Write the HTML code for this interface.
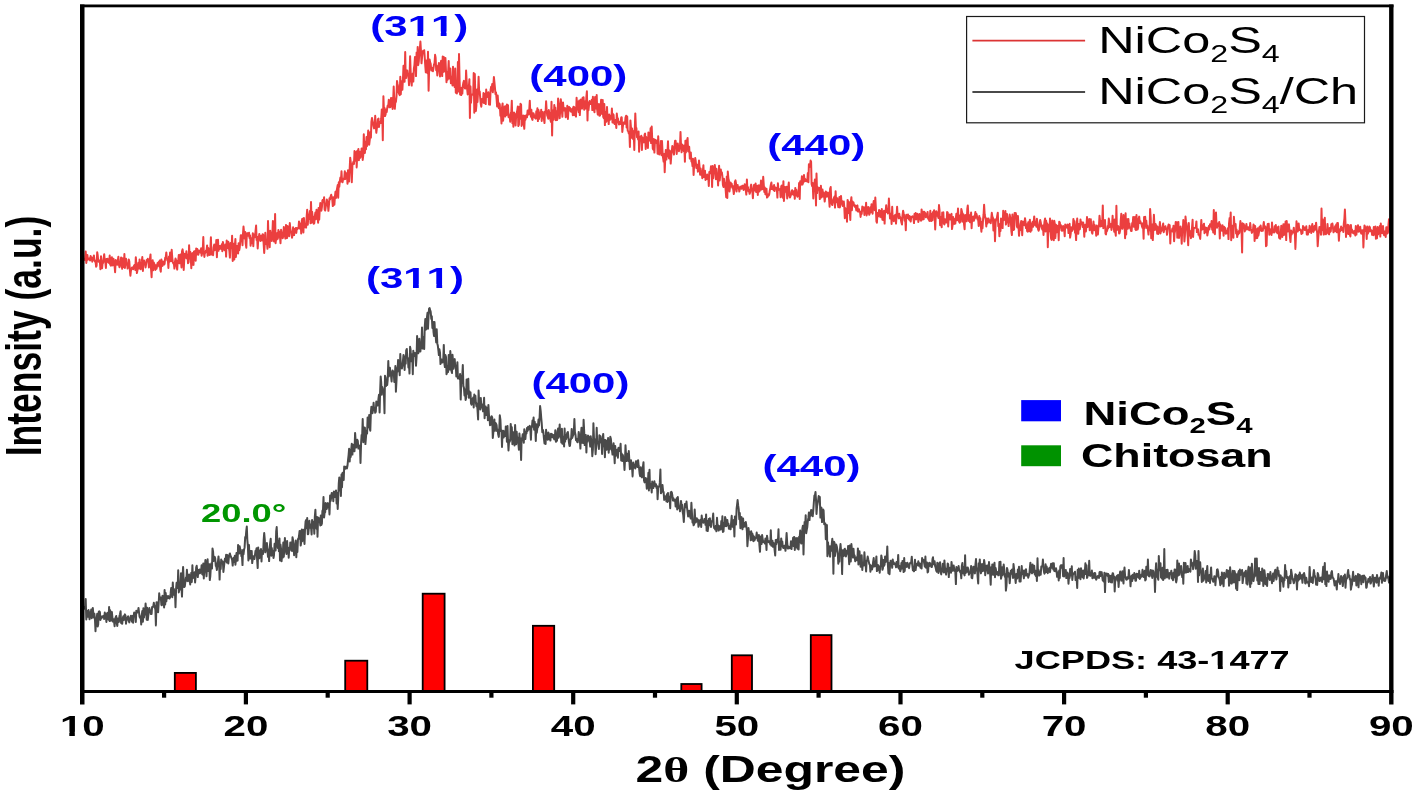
<!DOCTYPE html>
<html><head><meta charset="utf-8"><title>XRD</title>
<style>html,body{margin:0;padding:0;background:#fff;} svg{display:block;} text{font-kerning:none;}</style>
</head><body>
<svg width="1416" height="794" viewBox="0 0 1416 794"><defs><clipPath id="f1" clipPathUnits="userSpaceOnUse"><path d="M-2000,-2000H4000V2000H-2000ZM-15.50,-3.96H-9.36V2.00H-15.50ZM-5.38,-3.96H-0.01V2.00H-5.38Z" clip-rule="evenodd"/></clipPath><clipPath id="f2" clipPathUnits="userSpaceOnUse"><path d="M-2000,-2000H4000V2000H-2000ZM-7.65,-4.06H-1.34V2.00H-7.65ZM2.78,-4.06H8.31V2.00H2.78ZM9.03,-4.06H15.34V2.00H9.03ZM19.46,-4.06H24.99V2.00H19.46Z" clip-rule="evenodd"/></clipPath><clipPath id="f3" clipPathUnits="userSpaceOnUse"><path d="M-2000,-2000H4000V2000H-2000ZM-7.65,-4.06H-1.34V2.00H-7.65ZM2.78,-4.06H8.31V2.00H2.78ZM9.03,-4.06H15.34V2.00H9.03ZM19.46,-4.06H24.99V2.00H19.46Z" clip-rule="evenodd"/></clipPath><clipPath id="f4" clipPathUnits="userSpaceOnUse"><path d="M-2000,-2000H4000V2000H-2000ZM140.59,-3.65H146.22V2.00H140.59ZM149.79,-3.65H154.69V2.00H149.79Z" clip-rule="evenodd"/></clipPath></defs><rect x="0" y="0" width="1416" height="794" fill="#fff"/>
<rect x="174.8" y="672.9" width="21.1" height="18.1" fill="#ff0000" stroke="#000" stroke-width="1.8"/>
<rect x="345.2" y="660.7" width="22.1" height="30.3" fill="#ff0000" stroke="#000" stroke-width="1.8"/>
<rect x="422.7" y="593.7" width="21.9" height="97.3" fill="#ff0000" stroke="#000" stroke-width="1.8"/>
<rect x="532.9" y="625.8" width="21.3" height="65.2" fill="#ff0000" stroke="#000" stroke-width="1.8"/>
<rect x="681.3" y="684.0" width="20.3" height="7.0" fill="#ff0000" stroke="#000" stroke-width="1.8"/>
<rect x="731.8" y="655.3" width="20.2" height="35.7" fill="#ff0000" stroke="#000" stroke-width="1.8"/>
<rect x="810.8" y="635.1" width="20.7" height="55.9" fill="#ff0000" stroke="#000" stroke-width="1.8"/>
<path d="M84.1,258.0 L84.6,259.9 L85.2,257.9 L85.7,251.5 L86.3,262.9 L86.8,258.8 L87.4,255.1 L87.9,259.7 L88.5,259.0 L89.0,259.0 L89.5,258.2 L90.1,260.5 L90.6,255.9 L91.2,258.7 L91.7,257.4 L92.3,261.7 L92.8,258.7 L93.4,259.3 L93.9,255.4 L94.4,260.2 L95.0,261.5 L95.5,260.8 L96.1,266.7 L96.6,265.8 L97.2,252.2 L97.7,255.1 L98.2,261.3 L98.8,260.1 L99.3,262.3 L99.9,262.0 L100.4,269.2 L101.0,256.3 L101.5,261.9 L102.1,268.2 L102.6,262.9 L103.1,263.0 L103.7,258.2 L104.2,254.2 L104.8,261.5 L105.3,261.5 L105.9,268.0 L106.4,259.1 L107.0,261.5 L107.5,258.8 L108.0,261.9 L108.6,262.7 L109.1,262.9 L109.7,255.6 L110.2,264.6 L110.8,265.6 L111.3,259.8 L111.9,257.3 L112.4,265.4 L112.9,261.8 L113.5,258.8 L114.0,265.2 L114.6,266.4 L115.1,272.2 L115.7,259.9 L116.2,262.8 L116.7,264.0 L117.3,264.8 L117.8,260.5 L118.4,256.7 L118.9,264.6 L119.5,267.2 L120.0,264.8 L120.6,262.4 L121.1,257.4 L121.6,264.9 L122.2,268.8 L122.7,258.3 L123.3,260.5 L123.8,267.1 L124.4,254.0 L124.9,268.0 L125.5,263.1 L126.0,258.7 L126.5,264.6 L127.1,263.5 L127.6,268.6 L128.2,266.1 L128.7,259.4 L129.3,261.3 L129.8,269.3 L130.4,275.7 L130.9,270.8 L131.4,268.9 L132.0,267.5 L132.5,267.6 L133.1,269.2 L133.6,266.8 L134.2,265.5 L134.7,264.9 L135.3,269.9 L135.8,257.2 L136.3,263.7 L136.9,273.1 L137.4,270.5 L138.0,266.9 L138.5,262.7 L139.1,268.6 L139.6,259.4 L140.1,267.3 L140.7,269.3 L141.2,265.6 L141.8,261.7 L142.3,257.1 L142.9,271.0 L143.4,262.6 L144.0,260.5 L144.5,264.2 L145.0,262.8 L145.6,267.4 L146.1,264.0 L146.7,259.9 L147.2,261.2 L147.8,258.8 L148.3,260.1 L148.9,267.5 L149.4,266.0 L149.9,259.2 L150.5,254.4 L151.0,268.2 L151.6,277.2 L152.1,263.1 L152.7,260.3 L153.2,270.2 L153.8,262.5 L154.3,264.3 L154.8,265.3 L155.4,269.9 L155.9,265.2 L156.5,268.8 L157.0,266.5 L157.6,262.9 L158.1,265.4 L158.7,262.0 L159.2,266.4 L159.7,260.5 L160.3,269.6 L160.8,271.8 L161.4,259.5 L161.9,263.8 L162.5,265.9 L163.0,261.5 L163.5,262.1 L164.1,264.6 L164.6,263.8 L165.2,257.7 L165.7,257.9 L166.3,252.4 L166.8,257.6 L167.4,260.5 L167.9,259.9 L168.4,267.9 L169.0,256.5 L169.5,261.7 L170.1,252.4 L170.6,260.9 L171.2,261.1 L171.7,249.8 L172.3,258.3 L172.8,261.7 L173.3,263.5 L173.9,263.4 L174.4,268.6 L175.0,261.7 L175.5,258.6 L176.1,260.4 L176.6,266.1 L177.2,269.6 L177.7,260.8 L178.2,261.4 L178.8,254.9 L179.3,263.3 L179.9,257.3 L180.4,254.5 L181.0,261.2 L181.5,267.4 L182.0,251.2 L182.6,249.4 L183.1,253.4 L183.7,269.9 L184.2,260.7 L184.8,253.8 L185.3,254.1 L185.9,257.8 L186.4,251.2 L186.9,258.5 L187.5,254.8 L188.0,263.2 L188.6,262.2 L189.1,245.2 L189.7,258.6 L190.2,251.7 L190.8,259.1 L191.3,268.2 L191.8,254.9 L192.4,253.1 L192.9,264.7 L193.5,264.9 L194.0,251.4 L194.6,256.8 L195.1,251.0 L195.7,260.7 L196.2,248.4 L196.7,254.7 L197.3,249.1 L197.8,252.9 L198.4,254.7 L198.9,250.5 L199.5,252.3 L200.0,250.9 L200.6,252.8 L201.1,248.3 L201.6,255.7 L202.2,252.6 L202.7,252.0 L203.3,237.0 L203.8,252.2 L204.4,257.0 L204.9,252.0 L205.4,252.8 L206.0,250.4 L206.5,251.0 L207.1,245.4 L207.6,255.7 L208.2,247.9 L208.7,249.6 L209.3,254.8 L209.8,254.9 L210.3,250.9 L210.9,237.3 L211.4,254.6 L212.0,253.5 L212.5,253.1 L213.1,255.2 L213.6,247.4 L214.2,244.6 L214.7,250.3 L215.2,248.3 L215.8,249.8 L216.3,240.0 L216.9,257.3 L217.4,244.6 L218.0,239.7 L218.5,250.8 L219.1,245.8 L219.6,248.9 L220.1,246.0 L220.7,247.5 L221.2,249.0 L221.8,244.3 L222.3,251.2 L222.9,241.9 L223.4,244.2 L224.0,248.5 L224.5,250.2 L225.0,247.2 L225.6,244.4 L226.1,256.6 L226.7,240.4 L227.2,243.4 L227.8,247.9 L228.3,241.7 L228.8,247.5 L229.4,251.2 L229.9,257.6 L230.5,243.0 L231.0,244.1 L231.6,248.3 L232.1,235.8 L232.7,261.0 L233.2,243.8 L233.7,243.8 L234.3,259.4 L234.8,247.4 L235.4,239.0 L235.9,257.0 L236.5,248.4 L237.0,246.0 L237.6,247.0 L238.1,253.5 L238.6,243.2 L239.2,250.2 L239.7,247.8 L240.3,241.2 L240.8,235.2 L241.4,240.7 L241.9,235.2 L242.5,245.3 L243.0,233.8 L243.5,226.5 L244.1,233.2 L244.6,238.4 L245.2,231.9 L245.7,243.3 L246.3,247.7 L246.8,234.8 L247.3,233.1 L247.9,235.8 L248.4,233.9 L249.0,232.7 L249.5,237.9 L250.1,235.5 L250.6,245.7 L251.2,238.2 L251.7,239.5 L252.2,243.2 L252.8,233.3 L253.3,246.2 L253.9,234.6 L254.4,234.5 L255.0,237.2 L255.5,231.5 L256.1,225.5 L256.6,239.9 L257.1,236.7 L257.7,248.4 L258.2,240.5 L258.8,237.6 L259.3,233.9 L259.9,239.3 L260.4,241.0 L261.0,235.7 L261.5,236.3 L262.0,240.4 L262.6,234.3 L263.1,234.4 L263.7,244.6 L264.2,253.0 L264.8,242.6 L265.3,232.7 L265.9,243.9 L266.4,239.8 L266.9,242.6 L267.5,248.8 L268.0,220.9 L268.6,240.5 L269.1,232.4 L269.7,247.2 L270.2,230.7 L270.7,235.2 L271.3,235.3 L271.8,241.0 L272.4,233.1 L272.9,220.9 L273.5,233.7 L274.0,241.4 L274.6,236.2 L275.1,213.9 L275.6,243.2 L276.2,237.5 L276.7,239.6 L277.3,233.1 L277.8,238.7 L278.4,230.0 L278.9,236.8 L279.5,231.7 L280.0,236.8 L280.5,243.2 L281.1,229.8 L281.6,232.8 L282.2,233.1 L282.7,238.2 L283.3,235.9 L283.8,227.1 L284.4,234.5 L284.9,235.7 L285.4,238.6 L286.0,224.9 L286.5,229.8 L287.1,238.0 L287.6,226.1 L288.2,226.7 L288.7,234.3 L289.2,236.3 L289.8,223.1 L290.3,228.3 L290.9,232.1 L291.4,233.1 L292.0,237.7 L292.5,235.5 L293.1,227.3 L293.6,230.3 L294.1,235.1 L294.7,229.1 L295.2,231.0 L295.8,228.0 L296.3,232.9 L296.9,227.9 L297.4,229.0 L298.0,228.0 L298.5,227.9 L299.0,221.5 L299.6,228.6 L300.1,228.3 L300.7,223.6 L301.2,233.4 L301.8,220.7 L302.3,218.7 L302.9,223.2 L303.4,232.5 L303.9,217.9 L304.5,226.1 L305.0,227.2 L305.6,224.6 L306.1,227.6 L306.7,215.8 L307.2,209.7 L307.8,224.8 L308.3,215.5 L308.8,219.0 L309.4,214.5 L309.9,211.1 L310.5,223.3 L311.0,201.9 L311.6,222.7 L312.1,211.7 L312.6,216.3 L313.2,216.8 L313.7,223.7 L314.3,223.1 L314.8,216.5 L315.4,212.4 L315.9,219.2 L316.5,209.7 L317.0,214.1 L317.5,214.2 L318.1,222.8 L318.6,207.9 L319.2,219.6 L319.7,210.4 L320.3,203.0 L320.8,204.6 L321.4,210.7 L321.9,207.2 L322.4,200.4 L323.0,199.7 L323.5,202.1 L324.1,197.3 L324.6,209.4 L325.2,210.5 L325.7,207.0 L326.3,203.9 L326.8,199.5 L327.3,201.5 L327.9,205.1 L328.4,210.8 L329.0,204.4 L329.5,198.3 L330.1,199.4 L330.6,196.6 L331.2,194.8 L331.7,197.3 L332.2,198.7 L332.8,206.1 L333.3,197.2 L333.9,205.0 L334.4,204.7 L335.0,195.9 L335.5,191.7 L336.0,198.0 L336.6,191.2 L337.1,188.3 L337.7,185.1 L338.2,197.7 L338.8,182.3 L339.3,186.7 L339.9,180.7 L340.4,177.5 L340.9,181.5 L341.5,171.3 L342.0,181.1 L342.6,182.2 L343.1,178.6 L343.7,178.4 L344.2,179.2 L344.8,171.3 L345.3,179.0 L345.8,172.8 L346.4,177.9 L346.9,174.0 L347.5,183.8 L348.0,170.3 L348.6,174.6 L349.1,181.4 L349.7,168.0 L350.2,157.7 L350.7,161.9 L351.3,166.8 L351.8,182.3 L352.4,165.4 L352.9,163.5 L353.5,161.6 L354.0,163.9 L354.5,151.0 L355.1,160.8 L355.6,159.0 L356.2,152.0 L356.7,167.4 L357.3,150.7 L357.8,151.6 L358.4,149.0 L358.9,160.3 L359.4,151.4 L360.0,157.9 L360.5,157.2 L361.1,155.4 L361.6,148.4 L362.2,148.7 L362.7,159.9 L363.3,154.8 L363.8,134.2 L364.3,150.2 L364.9,153.0 L365.4,141.4 L366.0,149.2 L366.5,137.1 L367.1,145.9 L367.6,141.3 L368.2,130.5 L368.7,142.7 L369.2,144.7 L369.8,139.5 L370.3,131.9 L370.9,137.6 L371.4,121.9 L372.0,118.0 L372.5,120.6 L373.1,123.5 L373.6,126.6 L374.1,128.4 L374.7,125.6 L375.2,115.7 L375.8,125.7 L376.3,132.8 L376.9,128.0 L377.4,126.0 L377.9,119.4 L378.5,118.5 L379.0,127.0 L379.6,122.0 L380.1,123.0 L380.7,123.1 L381.2,118.7 L381.8,109.4 L382.3,115.7 L382.8,140.2 L383.4,96.3 L383.9,109.9 L384.5,108.0 L385.0,116.1 L385.6,114.4 L386.1,109.5 L386.7,112.1 L387.2,108.1 L387.7,105.4 L388.3,105.8 L388.8,99.7 L389.4,107.3 L389.9,107.3 L390.5,106.9 L391.0,98.1 L391.6,100.0 L392.1,98.1 L392.6,109.0 L393.2,99.3 L393.7,86.6 L394.3,99.9 L394.8,108.8 L395.4,101.1 L395.9,101.9 L396.5,96.3 L397.0,81.0 L397.5,83.8 L398.1,86.6 L398.6,92.5 L399.2,94.1 L399.7,95.2 L400.3,76.7 L400.8,94.3 L401.3,82.7 L401.9,81.4 L402.4,89.8 L403.0,77.8 L403.5,65.7 L404.1,75.3 L404.6,81.8 L405.2,52.1 L405.7,78.1 L406.2,77.8 L406.8,70.6 L407.3,70.5 L407.9,75.6 L408.4,74.6 L409.0,85.2 L409.5,79.2 L410.1,56.2 L410.6,70.3 L411.1,79.2 L411.7,85.6 L412.2,75.2 L412.8,73.5 L413.3,81.6 L413.9,68.5 L414.4,65.2 L415.0,56.9 L415.5,60.9 L416.0,76.1 L416.6,52.6 L417.1,61.8 L417.7,46.9 L418.2,65.2 L418.8,61.3 L419.3,53.1 L419.8,49.8 L420.4,41.5 L420.9,49.8 L421.5,63.3 L422.0,58.0 L422.6,52.2 L423.1,50.9 L423.7,51.1 L424.2,50.2 L424.7,56.8 L425.3,66.2 L425.8,72.3 L426.4,60.4 L426.9,62.2 L427.5,73.3 L428.0,51.8 L428.6,90.7 L429.1,70.4 L429.6,59.4 L430.2,62.6 L430.7,63.9 L431.3,70.5 L431.8,67.7 L432.4,69.7 L432.9,71.2 L433.5,68.0 L434.0,64.4 L434.5,63.7 L435.1,54.8 L435.6,57.7 L436.2,70.3 L436.7,65.6 L437.3,75.5 L437.8,70.3 L438.4,70.5 L438.9,62.9 L439.4,66.3 L440.0,76.5 L440.5,66.1 L441.1,60.8 L441.6,69.0 L442.2,76.1 L442.7,56.5 L443.2,72.0 L443.8,57.1 L444.3,71.4 L444.9,65.8 L445.4,57.9 L446.0,71.4 L446.5,82.3 L447.1,72.4 L447.6,79.7 L448.1,73.0 L448.7,61.1 L449.2,78.5 L449.8,74.0 L450.3,68.5 L450.9,83.2 L451.4,80.8 L452.0,76.4 L452.5,85.5 L453.0,66.8 L453.6,85.3 L454.1,76.0 L454.7,87.1 L455.2,68.6 L455.8,92.7 L456.3,85.6 L456.9,93.4 L457.4,84.5 L457.9,62.0 L458.5,91.5 L459.0,54.0 L459.6,80.8 L460.1,94.4 L460.7,91.4 L461.2,95.1 L461.7,87.7 L462.3,93.6 L462.8,86.0 L463.4,82.5 L463.9,80.9 L464.5,86.8 L465.0,88.6 L465.6,88.3 L466.1,70.5 L466.6,80.2 L467.2,89.4 L467.7,94.5 L468.3,89.5 L468.8,87.6 L469.4,79.2 L469.9,118.1 L470.5,86.5 L471.0,102.8 L471.5,95.5 L472.1,94.8 L472.6,94.3 L473.2,94.3 L473.7,73.0 L474.3,112.7 L474.8,74.1 L475.4,97.6 L475.9,111.0 L476.4,105.3 L477.0,89.6 L477.5,102.0 L478.1,91.4 L478.6,76.7 L479.2,93.3 L479.7,91.4 L480.3,98.9 L480.8,104.1 L481.3,106.7 L481.9,99.0 L482.4,101.3 L483.0,102.1 L483.5,93.1 L484.1,103.1 L484.6,102.1 L485.1,93.7 L485.7,104.1 L486.2,89.6 L486.8,97.0 L487.3,95.9 L487.9,96.2 L488.4,92.3 L489.0,104.4 L489.5,101.5 L490.0,104.7 L490.6,89.9 L491.1,86.8 L491.7,90.6 L492.2,84.1 L492.8,92.3 L493.3,86.4 L493.9,77.0 L494.4,82.0 L494.9,87.3 L495.5,94.1 L496.0,92.4 L496.6,99.2 L497.1,106.4 L497.7,95.6 L498.2,103.1 L498.8,108.2 L499.3,103.4 L499.8,104.7 L500.4,115.8 L500.9,113.4 L501.5,123.4 L502.0,107.7 L502.6,103.4 L503.1,120.7 L503.7,114.4 L504.2,111.3 L504.7,106.5 L505.3,116.4 L505.8,106.3 L506.4,115.1 L506.9,104.5 L507.5,113.8 L508.0,105.3 L508.5,117.0 L509.1,117.3 L509.6,115.6 L510.2,121.7 L510.7,113.4 L511.3,111.8 L511.8,100.7 L512.4,123.3 L512.9,116.5 L513.4,126.8 L514.0,112.5 L514.5,116.2 L515.1,114.2 L515.6,125.5 L516.2,115.1 L516.7,112.9 L517.3,110.1 L517.8,106.6 L518.3,125.9 L518.9,124.8 L519.4,107.0 L520.0,118.7 L520.5,103.7 L521.1,104.7 L521.6,125.9 L522.2,122.9 L522.7,121.7 L523.2,115.4 L523.8,124.3 L524.3,128.8 L524.9,115.7 L525.4,119.9 L526.0,116.7 L526.5,114.9 L527.0,117.3 L527.6,110.5 L528.1,110.6 L528.7,114.5 L529.2,110.5 L529.8,100.7 L530.3,112.7 L530.9,116.7 L531.4,109.8 L531.9,118.3 L532.5,119.9 L533.0,113.2 L533.6,113.5 L534.1,115.6 L534.7,117.8 L535.2,117.4 L535.8,118.6 L536.3,111.3 L536.8,115.9 L537.4,108.3 L537.9,121.1 L538.5,110.1 L539.0,119.0 L539.6,112.6 L540.1,115.5 L540.7,116.6 L541.2,109.7 L541.7,121.0 L542.3,113.8 L542.8,112.0 L543.4,115.9 L543.9,118.8 L544.5,123.0 L545.0,111.4 L545.6,111.9 L546.1,101.2 L546.6,109.4 L547.2,115.4 L547.7,116.6 L548.3,118.8 L548.8,110.1 L549.4,114.1 L549.9,113.0 L550.4,119.8 L551.0,121.9 L551.5,101.8 L552.1,135.4 L552.6,112.0 L553.2,110.3 L553.7,119.7 L554.3,105.0 L554.8,115.2 L555.3,107.5 L555.9,120.3 L556.4,111.2 L557.0,120.0 L557.5,118.8 L558.1,98.5 L558.6,104.0 L559.2,108.1 L559.7,118.3 L560.2,109.9 L560.8,99.2 L561.3,105.0 L561.9,111.7 L562.4,116.8 L563.0,102.4 L563.5,108.2 L564.1,110.4 L564.6,108.5 L565.1,108.1 L565.7,117.2 L566.2,114.9 L566.8,112.8 L567.3,105.7 L567.9,119.0 L568.4,110.8 L569.0,106.9 L569.5,108.2 L570.0,107.8 L570.6,111.4 L571.1,111.7 L571.7,111.4 L572.2,108.7 L572.8,115.2 L573.3,107.0 L573.8,106.7 L574.4,115.1 L574.9,107.7 L575.5,115.6 L576.0,116.6 L576.6,97.8 L577.1,109.2 L577.7,101.5 L578.2,109.9 L578.7,112.2 L579.3,100.4 L579.8,115.1 L580.4,104.3 L580.9,99.6 L581.5,104.4 L582.0,108.6 L582.6,97.8 L583.1,104.3 L583.6,97.3 L584.2,109.7 L584.7,104.4 L585.3,101.3 L585.8,108.5 L586.4,96.7 L586.9,91.3 L587.5,120.4 L588.0,102.3 L588.5,110.2 L589.1,104.1 L589.6,101.1 L590.2,101.9 L590.7,104.1 L591.3,101.7 L591.8,99.7 L592.3,110.1 L592.9,96.8 L593.4,107.3 L594.0,109.6 L594.5,112.3 L595.1,97.0 L595.6,105.3 L596.2,108.6 L596.7,95.1 L597.2,109.8 L597.8,114.5 L598.3,112.9 L598.9,104.1 L599.4,115.7 L600.0,115.6 L600.5,110.6 L601.1,99.8 L601.6,107.5 L602.1,113.9 L602.7,99.9 L603.2,116.8 L603.8,118.1 L604.3,104.0 L604.9,125.1 L605.4,111.8 L606.0,122.0 L606.5,115.9 L607.0,106.9 L607.6,120.7 L608.1,116.8 L608.7,124.1 L609.2,114.4 L609.8,120.1 L610.3,116.0 L610.9,118.8 L611.4,118.1 L611.9,108.5 L612.5,122.4 L613.0,113.9 L613.6,115.0 L614.1,122.9 L614.7,124.0 L615.2,121.6 L615.7,120.1 L616.3,128.0 L616.8,113.6 L617.4,119.4 L617.9,118.4 L618.5,122.6 L619.0,124.6 L619.6,122.1 L620.1,124.1 L620.6,122.8 L621.2,117.5 L621.7,117.3 L622.3,131.9 L622.8,127.1 L623.4,122.9 L623.9,122.4 L624.5,123.7 L625.0,123.8 L625.5,117.5 L626.1,115.8 L626.6,127.5 L627.2,116.6 L627.7,130.8 L628.3,131.3 L628.8,133.4 L629.4,132.3 L629.9,147.0 L630.4,120.4 L631.0,128.1 L631.5,137.8 L632.1,128.4 L632.6,133.6 L633.2,139.2 L633.7,131.3 L634.3,149.9 L634.8,128.9 L635.3,113.4 L635.9,127.8 L636.4,128.1 L637.0,137.3 L637.5,135.7 L638.1,139.4 L638.6,131.6 L639.1,151.7 L639.7,136.8 L640.2,137.0 L640.8,139.7 L641.3,135.8 L641.9,150.0 L642.4,137.6 L643.0,142.1 L643.5,140.8 L644.0,142.4 L644.6,134.5 L645.1,133.6 L645.7,148.9 L646.2,137.0 L646.8,141.4 L647.3,139.7 L647.9,148.0 L648.4,132.4 L648.9,138.1 L649.5,139.1 L650.0,140.6 L650.6,128.2 L651.1,143.1 L651.7,126.5 L652.2,138.8 L652.8,148.7 L653.3,149.6 L653.8,138.9 L654.4,152.6 L654.9,141.8 L655.5,139.9 L656.0,141.8 L656.6,142.9 L657.1,140.6 L657.6,153.7 L658.2,136.2 L658.7,145.8 L659.3,154.5 L659.8,150.5 L660.4,152.4 L660.9,141.0 L661.5,155.3 L662.0,141.0 L662.5,151.3 L663.1,158.2 L663.6,161.5 L664.2,154.1 L664.7,172.2 L665.3,157.0 L665.8,149.9 L666.4,159.6 L666.9,153.6 L667.4,153.3 L668.0,141.2 L668.5,155.5 L669.1,158.5 L669.6,150.4 L670.2,151.9 L670.7,163.6 L671.3,155.1 L671.8,151.7 L672.3,146.0 L672.9,148.3 L673.4,149.8 L674.0,154.5 L674.5,146.2 L675.1,140.7 L675.6,140.8 L676.2,146.6 L676.7,153.9 L677.2,147.2 L677.8,143.5 L678.3,147.7 L678.9,151.2 L679.4,148.4 L680.0,146.8 L680.5,131.9 L681.0,145.6 L681.6,152.3 L682.1,144.4 L682.7,145.4 L683.2,147.5 L683.8,151.1 L684.3,145.4 L684.9,161.8 L685.4,140.8 L685.9,152.5 L686.5,140.4 L687.0,141.0 L687.6,138.0 L688.1,151.3 L688.7,151.6 L689.2,146.7 L689.8,158.6 L690.3,153.1 L690.8,152.5 L691.4,161.4 L691.9,160.9 L692.5,166.1 L693.0,158.7 L693.6,174.9 L694.1,165.7 L694.7,164.2 L695.2,158.0 L695.7,161.0 L696.3,167.9 L696.8,164.5 L697.4,166.5 L697.9,171.7 L698.5,167.7 L699.0,160.6 L699.5,166.4 L700.1,174.8 L700.6,168.4 L701.2,173.2 L701.7,171.8 L702.3,178.2 L702.8,171.7 L703.4,165.3 L703.9,177.0 L704.4,171.5 L705.0,170.8 L705.5,180.0 L706.1,178.0 L706.6,179.0 L707.2,174.6 L707.7,177.4 L708.3,177.6 L708.8,185.9 L709.3,172.1 L709.9,173.6 L710.4,172.4 L711.0,166.2 L711.5,166.8 L712.1,186.9 L712.6,166.1 L713.2,178.3 L713.7,171.0 L714.2,171.5 L714.8,165.0 L715.3,170.9 L715.9,179.3 L716.4,168.7 L717.0,178.4 L717.5,174.6 L718.1,185.4 L718.6,173.5 L719.1,165.8 L719.7,180.4 L720.2,175.2 L720.8,169.4 L721.3,174.3 L721.9,172.5 L722.4,176.5 L722.9,185.0 L723.5,187.1 L724.0,178.8 L724.6,183.5 L725.1,183.1 L725.7,190.5 L726.2,197.2 L726.8,176.4 L727.3,198.1 L727.8,171.5 L728.4,178.5 L728.9,180.4 L729.5,191.4 L730.0,187.0 L730.6,182.6 L731.1,183.9 L731.7,183.7 L732.2,187.6 L732.7,186.0 L733.3,190.0 L733.8,194.1 L734.4,190.2 L734.9,181.8 L735.5,180.4 L736.0,183.4 L736.6,191.4 L737.1,186.1 L737.6,185.0 L738.2,187.9 L738.7,187.2 L739.3,191.6 L739.8,189.1 L740.4,186.6 L740.9,187.1 L741.5,188.7 L742.0,186.0 L742.5,185.7 L743.1,186.1 L743.6,189.9 L744.2,188.2 L744.7,184.2 L745.3,187.1 L745.8,190.4 L746.3,194.6 L746.9,179.5 L747.4,189.4 L748.0,187.3 L748.5,191.3 L749.1,190.0 L749.6,193.8 L750.2,192.1 L750.7,186.6 L751.2,184.6 L751.8,190.3 L752.3,190.4 L752.9,198.2 L753.4,189.8 L754.0,185.0 L754.5,190.5 L755.1,190.0 L755.6,183.4 L756.1,192.0 L756.7,188.6 L757.2,185.7 L757.8,195.0 L758.3,185.9 L758.9,185.3 L759.4,191.5 L760.0,190.0 L760.5,188.7 L761.0,180.5 L761.6,189.5 L762.1,189.0 L762.7,189.0 L763.2,176.7 L763.8,185.1 L764.3,192.0 L764.8,187.4 L765.4,194.3 L765.9,194.4 L766.5,188.7 L767.0,197.6 L767.6,197.1 L768.1,194.4 L768.7,195.7 L769.2,194.3 L769.7,191.2 L770.3,187.9 L770.8,185.0 L771.4,182.5 L771.9,189.1 L772.5,188.8 L773.0,186.5 L773.6,190.0 L774.1,185.0 L774.6,191.1 L775.2,187.6 L775.7,187.6 L776.3,188.0 L776.8,188.0 L777.4,197.6 L777.9,183.3 L778.5,190.1 L779.0,189.2 L779.5,189.5 L780.1,189.2 L780.6,197.2 L781.2,186.5 L781.7,185.6 L782.3,193.1 L782.8,197.7 L783.4,181.3 L783.9,200.9 L784.4,194.2 L785.0,187.1 L785.5,189.0 L786.1,191.8 L786.6,186.8 L787.2,198.5 L787.7,194.4 L788.2,187.5 L788.8,182.6 L789.3,194.6 L789.9,197.6 L790.4,196.5 L791.0,194.7 L791.5,191.5 L792.1,190.2 L792.6,194.2 L793.1,193.4 L793.7,194.8 L794.2,190.9 L794.8,198.8 L795.3,187.9 L795.9,192.2 L796.4,189.9 L797.0,195.8 L797.5,196.7 L798.0,195.2 L798.6,192.3 L799.1,183.1 L799.7,199.0 L800.2,181.2 L800.8,184.7 L801.3,184.3 L801.9,176.3 L802.4,184.6 L802.9,183.3 L803.5,179.4 L804.0,175.0 L804.6,181.4 L805.1,179.0 L805.7,179.7 L806.2,181.3 L806.8,181.2 L807.3,181.4 L807.8,173.0 L808.4,182.3 L808.9,164.3 L809.5,167.0 L810.0,166.5 L810.6,160.6 L811.1,161.8 L811.6,184.0 L812.2,186.3 L812.7,183.0 L813.3,198.5 L813.8,187.1 L814.4,184.3 L814.9,179.5 L815.5,187.0 L816.0,205.4 L816.5,173.6 L817.1,193.1 L817.6,187.0 L818.2,188.7 L818.7,189.8 L819.3,188.0 L819.8,199.1 L820.4,193.8 L820.9,185.7 L821.4,197.4 L822.0,193.0 L822.5,189.5 L823.1,196.4 L823.6,192.5 L824.2,196.8 L824.7,201.6 L825.3,196.1 L825.8,191.6 L826.3,192.5 L826.9,196.7 L827.4,196.1 L828.0,192.5 L828.5,193.8 L829.1,199.5 L829.6,206.8 L830.1,188.9 L830.7,187.0 L831.2,199.6 L831.8,204.0 L832.3,205.0 L832.9,201.8 L833.4,199.2 L834.0,198.1 L834.5,196.6 L835.0,207.6 L835.6,191.3 L836.1,201.3 L836.7,202.1 L837.2,198.3 L837.8,203.8 L838.3,207.2 L838.9,203.8 L839.4,197.0 L839.9,207.4 L840.5,204.4 L841.0,195.9 L841.6,203.6 L842.1,201.0 L842.7,205.9 L843.2,203.3 L843.8,201.5 L844.3,207.7 L844.8,218.3 L845.4,208.3 L845.9,212.0 L846.5,210.0 L847.0,221.7 L847.6,199.9 L848.1,213.3 L848.7,201.8 L849.2,204.4 L849.7,210.2 L850.3,219.9 L850.8,202.3 L851.4,197.2 L851.9,210.3 L852.5,201.4 L853.0,203.9 L853.5,202.5 L854.1,205.7 L854.6,205.1 L855.2,207.2 L855.7,205.9 L856.3,210.4 L856.8,206.1 L857.4,205.4 L857.9,211.5 L858.4,211.4 L859.0,209.3 L859.5,211.9 L860.1,212.2 L860.6,216.9 L861.2,211.5 L861.7,213.9 L862.3,206.6 L862.8,207.3 L863.3,210.6 L863.9,207.2 L864.4,215.0 L865.0,209.9 L865.5,212.8 L866.1,202.7 L866.6,215.4 L867.2,211.0 L867.7,213.5 L868.2,206.9 L868.8,211.8 L869.3,214.8 L869.9,213.0 L870.4,207.3 L871.0,212.0 L871.5,204.3 L872.0,211.0 L872.6,213.7 L873.1,205.8 L873.7,201.1 L874.2,208.2 L874.8,210.3 L875.3,197.6 L875.9,208.9 L876.4,221.3 L876.9,222.7 L877.5,212.9 L878.0,216.6 L878.6,213.9 L879.1,210.0 L879.7,211.2 L880.2,216.8 L880.8,210.9 L881.3,217.3 L881.8,209.1 L882.4,219.7 L882.9,219.9 L883.5,216.5 L884.0,210.8 L884.6,223.6 L885.1,210.7 L885.7,210.9 L886.2,205.2 L886.7,212.1 L887.3,209.2 L887.8,213.4 L888.4,210.3 L888.9,198.6 L889.5,210.7 L890.0,218.4 L890.6,213.8 L891.1,213.8 L891.6,224.0 L892.2,206.7 L892.7,219.7 L893.3,219.6 L893.8,221.2 L894.4,215.9 L894.9,215.3 L895.4,214.9 L896.0,223.6 L896.5,216.7 L897.1,206.7 L897.6,215.3 L898.2,215.1 L898.7,218.3 L899.3,213.8 L899.8,218.1 L900.3,217.2 L900.9,219.8 L901.4,222.5 L902.0,224.6 L902.5,215.7 L903.1,210.8 L903.6,213.3 L904.2,215.6 L904.7,220.7 L905.2,217.2 L905.8,230.3 L906.3,214.8 L906.9,217.5 L907.4,218.0 L908.0,214.6 L908.5,218.6 L909.1,219.6 L909.6,216.0 L910.1,219.6 L910.7,221.6 L911.2,217.1 L911.8,217.0 L912.3,216.3 L912.9,216.4 L913.4,217.8 L914.0,223.1 L914.5,213.9 L915.0,215.3 L915.6,213.0 L916.1,219.5 L916.7,218.5 L917.2,213.7 L917.8,215.1 L918.3,222.0 L918.8,220.1 L919.4,214.0 L919.9,217.8 L920.5,217.4 L921.0,220.7 L921.6,209.4 L922.1,215.1 L922.7,219.4 L923.2,211.7 L923.7,219.2 L924.3,211.8 L924.8,212.5 L925.4,213.9 L925.9,217.3 L926.5,215.8 L927.0,215.2 L927.6,211.9 L928.1,218.8 L928.6,218.4 L929.2,220.6 L929.7,221.0 L930.3,210.7 L930.8,220.8 L931.4,221.0 L931.9,213.8 L932.5,220.3 L933.0,212.1 L933.5,213.9 L934.1,210.2 L934.6,214.8 L935.2,229.4 L935.7,217.6 L936.3,211.2 L936.8,215.8 L937.3,212.4 L937.9,215.5 L938.4,218.1 L939.0,205.1 L939.5,210.0 L940.1,225.2 L940.6,217.4 L941.2,216.7 L941.7,227.3 L942.2,212.6 L942.8,212.9 L943.3,212.3 L943.9,223.7 L944.4,224.4 L945.0,219.3 L945.5,222.6 L946.1,222.6 L946.6,222.5 L947.1,212.1 L947.7,212.5 L948.2,226.5 L948.8,215.3 L949.3,214.6 L949.9,215.2 L950.4,219.6 L951.0,215.2 L951.5,213.9 L952.0,229.1 L952.6,225.2 L953.1,217.0 L953.7,221.5 L954.2,223.9 L954.8,218.9 L955.3,223.6 L955.9,217.6 L956.4,213.7 L956.9,220.2 L957.5,218.3 L958.0,208.5 L958.6,220.6 L959.1,221.7 L959.7,222.6 L960.2,215.3 L960.7,221.7 L961.3,209.0 L961.8,211.1 L962.4,213.6 L962.9,221.7 L963.5,214.5 L964.0,223.8 L964.6,229.2 L965.1,215.7 L965.6,215.0 L966.2,218.1 L966.7,221.3 L967.3,209.0 L967.8,205.5 L968.4,215.8 L968.9,221.0 L969.5,215.3 L970.0,222.3 L970.5,222.1 L971.1,212.5 L971.6,228.2 L972.2,217.1 L972.7,220.4 L973.3,216.4 L973.8,220.8 L974.4,219.2 L974.9,215.7 L975.4,212.0 L976.0,217.7 L976.5,214.0 L977.1,216.6 L977.6,219.5 L978.2,219.9 L978.7,226.0 L979.3,215.9 L979.8,222.0 L980.3,218.3 L980.9,226.6 L981.4,231.7 L982.0,222.1 L982.5,228.2 L983.1,218.7 L983.6,214.2 L984.1,204.8 L984.7,214.5 L985.2,217.3 L985.8,220.4 L986.3,226.5 L986.9,218.4 L987.4,223.6 L988.0,219.8 L988.5,218.5 L989.0,221.8 L989.6,222.3 L990.1,220.3 L990.7,223.3 L991.2,219.4 L991.8,212.8 L992.3,216.4 L992.9,217.6 L993.4,230.4 L993.9,219.2 L994.5,224.2 L995.0,241.2 L995.6,222.5 L996.1,219.1 L996.7,219.5 L997.2,216.0 L997.8,212.7 L998.3,226.3 L998.8,223.7 L999.4,236.2 L999.9,225.7 L1000.5,230.9 L1001.0,218.5 L1001.6,222.5 L1002.1,225.3 L1002.6,228.1 L1003.2,210.8 L1003.7,220.2 L1004.3,219.5 L1004.8,218.3 L1005.4,211.1 L1005.9,224.6 L1006.5,221.8 L1007.0,214.0 L1007.5,222.2 L1008.1,219.4 L1008.6,226.1 L1009.2,218.4 L1009.7,214.6 L1010.3,217.4 L1010.8,221.3 L1011.4,231.4 L1011.9,235.1 L1012.4,214.5 L1013.0,228.0 L1013.5,230.0 L1014.1,229.5 L1014.6,213.1 L1015.2,218.2 L1015.7,213.0 L1016.3,215.9 L1016.8,226.0 L1017.3,227.4 L1017.9,215.9 L1018.4,223.9 L1019.0,235.8 L1019.5,229.6 L1020.1,230.3 L1020.6,224.3 L1021.2,221.1 L1021.7,222.6 L1022.2,235.2 L1022.8,221.6 L1023.3,224.3 L1023.9,223.0 L1024.4,225.2 L1025.0,218.2 L1025.5,221.6 L1026.0,228.1 L1026.6,224.2 L1027.1,231.0 L1027.7,231.7 L1028.2,222.2 L1028.8,231.1 L1029.3,222.9 L1029.9,219.8 L1030.4,231.8 L1030.9,225.3 L1031.5,230.5 L1032.0,223.3 L1032.6,221.9 L1033.1,226.8 L1033.7,222.1 L1034.2,216.4 L1034.8,222.9 L1035.3,225.3 L1035.8,222.0 L1036.4,226.7 L1036.9,218.8 L1037.5,224.7 L1038.0,228.9 L1038.6,230.7 L1039.1,229.3 L1039.7,222.8 L1040.2,220.0 L1040.7,222.2 L1041.3,225.9 L1041.8,228.0 L1042.4,229.8 L1042.9,225.4 L1043.5,234.9 L1044.0,227.2 L1044.5,221.6 L1045.1,218.5 L1045.6,231.4 L1046.2,220.8 L1046.7,228.7 L1047.3,223.5 L1047.8,247.2 L1048.4,225.2 L1048.9,231.1 L1049.4,231.3 L1050.0,218.5 L1050.5,231.2 L1051.1,238.7 L1051.6,239.9 L1052.2,220.4 L1052.7,230.7 L1053.3,237.5 L1053.8,240.2 L1054.3,220.8 L1054.9,224.6 L1055.4,237.9 L1056.0,224.7 L1056.5,232.6 L1057.1,229.0 L1057.6,225.7 L1058.2,228.0 L1058.7,240.2 L1059.2,221.8 L1059.8,222.4 L1060.3,227.5 L1060.9,225.1 L1061.4,230.2 L1062.0,230.8 L1062.5,230.6 L1063.1,225.9 L1063.6,228.7 L1064.1,228.3 L1064.7,236.2 L1065.2,224.5 L1065.8,226.5 L1066.3,227.2 L1066.9,227.6 L1067.4,224.6 L1067.9,225.1 L1068.5,233.1 L1069.0,224.9 L1069.6,223.9 L1070.1,237.7 L1070.7,233.9 L1071.2,227.2 L1071.8,231.1 L1072.3,229.6 L1072.8,229.7 L1073.4,218.9 L1073.9,223.0 L1074.5,221.3 L1075.0,232.8 L1075.6,231.6 L1076.1,240.1 L1076.7,224.3 L1077.2,218.6 L1077.7,228.7 L1078.3,233.8 L1078.8,224.0 L1079.4,229.4 L1079.9,229.3 L1080.5,219.6 L1081.0,224.2 L1081.6,223.8 L1082.1,222.4 L1082.6,226.9 L1083.2,222.6 L1083.7,225.1 L1084.3,236.7 L1084.8,225.6 L1085.4,224.8 L1085.9,231.5 L1086.5,225.7 L1087.0,217.0 L1087.5,226.9 L1088.1,221.2 L1088.6,226.6 L1089.2,219.0 L1089.7,230.3 L1090.3,222.2 L1090.8,219.3 L1091.3,226.7 L1091.9,232.5 L1092.4,233.7 L1093.0,227.5 L1093.5,221.5 L1094.1,229.9 L1094.6,224.9 L1095.2,230.5 L1095.7,226.7 L1096.2,235.8 L1096.8,225.5 L1097.3,228.7 L1097.9,234.5 L1098.4,228.1 L1099.0,225.2 L1099.5,215.8 L1100.1,221.4 L1100.6,226.4 L1101.1,220.9 L1101.7,225.9 L1102.2,224.0 L1102.8,205.4 L1103.3,228.2 L1103.9,226.4 L1104.4,225.6 L1105.0,220.0 L1105.5,233.7 L1106.0,234.4 L1106.6,229.5 L1107.1,231.0 L1107.7,225.9 L1108.2,228.4 L1108.8,218.6 L1109.3,222.2 L1109.8,226.9 L1110.4,224.0 L1110.9,224.5 L1111.5,229.9 L1112.0,226.0 L1112.6,215.7 L1113.1,225.7 L1113.7,225.4 L1114.2,231.7 L1114.7,219.6 L1115.3,232.4 L1115.8,235.7 L1116.4,205.7 L1116.9,229.8 L1117.5,229.5 L1118.0,225.9 L1118.6,227.2 L1119.1,233.5 L1119.6,233.1 L1120.2,230.1 L1120.7,221.2 L1121.3,213.7 L1121.8,228.4 L1122.4,228.7 L1122.9,227.1 L1123.5,215.1 L1124.0,224.9 L1124.5,223.9 L1125.1,238.3 L1125.6,213.2 L1126.2,234.4 L1126.7,219.2 L1127.3,219.2 L1127.8,228.7 L1128.4,218.9 L1128.9,227.5 L1129.4,223.4 L1130.0,228.0 L1130.5,228.8 L1131.1,231.0 L1131.6,231.1 L1132.2,222.9 L1132.7,224.1 L1133.2,217.0 L1133.8,226.7 L1134.3,224.3 L1134.9,217.0 L1135.4,229.4 L1136.0,230.1 L1136.5,215.1 L1137.1,226.1 L1137.6,229.4 L1138.1,227.5 L1138.7,218.6 L1139.2,216.6 L1139.8,222.9 L1140.3,221.1 L1140.9,223.6 L1141.4,223.3 L1142.0,226.5 L1142.5,227.8 L1143.0,223.3 L1143.6,238.8 L1144.1,216.9 L1144.7,228.2 L1145.2,216.8 L1145.8,226.0 L1146.3,220.7 L1146.9,228.0 L1147.4,225.4 L1147.9,229.9 L1148.5,234.6 L1149.0,227.3 L1149.6,230.3 L1150.1,208.9 L1150.7,217.7 L1151.2,238.2 L1151.8,227.1 L1152.3,224.5 L1152.8,240.1 L1153.4,228.2 L1153.9,214.8 L1154.5,226.2 L1155.0,229.9 L1155.6,224.0 L1156.1,226.2 L1156.6,225.5 L1157.2,233.7 L1157.7,226.9 L1158.3,233.9 L1158.8,228.9 L1159.4,228.2 L1159.9,222.1 L1160.5,233.4 L1161.0,230.6 L1161.5,231.1 L1162.1,227.9 L1162.6,225.9 L1163.2,223.5 L1163.7,232.2 L1164.3,229.6 L1164.8,227.2 L1165.4,226.2 L1165.9,229.0 L1166.4,228.3 L1167.0,234.8 L1167.5,231.6 L1168.1,226.4 L1168.6,224.5 L1169.2,227.9 L1169.7,225.3 L1170.3,243.4 L1170.8,230.6 L1171.3,231.6 L1171.9,230.9 L1172.4,228.5 L1173.0,231.8 L1173.5,225.7 L1174.1,241.3 L1174.6,233.0 L1175.1,230.8 L1175.7,222.0 L1176.2,224.4 L1176.8,222.2 L1177.3,237.7 L1177.9,237.0 L1178.4,221.9 L1179.0,237.9 L1179.5,234.2 L1180.0,235.3 L1180.6,226.5 L1181.1,232.5 L1181.7,243.8 L1182.2,228.6 L1182.8,230.8 L1183.3,220.1 L1183.9,228.7 L1184.4,241.5 L1184.9,235.9 L1185.5,216.5 L1186.0,221.7 L1186.6,225.0 L1187.1,230.2 L1187.7,236.6 L1188.2,245.2 L1188.8,223.0 L1189.3,232.5 L1189.8,235.5 L1190.4,231.2 L1190.9,238.2 L1191.5,233.4 L1192.0,227.9 L1192.6,219.7 L1193.1,237.0 L1193.7,228.1 L1194.2,227.9 L1194.7,227.9 L1195.3,227.7 L1195.8,227.9 L1196.4,221.4 L1196.9,232.1 L1197.5,229.2 L1198.0,229.2 L1198.5,234.8 L1199.1,234.9 L1199.6,236.1 L1200.2,238.9 L1200.7,231.1 L1201.3,219.9 L1201.8,229.7 L1202.4,228.6 L1202.9,229.0 L1203.4,225.3 L1204.0,223.7 L1204.5,233.2 L1205.1,231.1 L1205.6,227.6 L1206.2,232.0 L1206.7,228.1 L1207.3,235.5 L1207.8,232.9 L1208.3,228.8 L1208.9,226.0 L1209.4,229.4 L1210.0,224.3 L1210.5,225.7 L1211.1,226.5 L1211.6,221.1 L1212.2,229.8 L1212.7,223.9 L1213.2,232.5 L1213.8,210.0 L1214.3,232.1 L1214.9,234.2 L1215.4,217.1 L1216.0,212.5 L1216.5,225.2 L1217.0,227.8 L1217.6,223.7 L1218.1,223.6 L1218.7,226.0 L1219.2,222.1 L1219.8,238.4 L1220.3,224.5 L1220.9,229.5 L1221.4,228.7 L1221.9,230.7 L1222.5,225.3 L1223.0,227.6 L1223.6,235.8 L1224.1,226.8 L1224.7,227.8 L1225.2,228.3 L1225.8,233.7 L1226.3,231.2 L1226.8,233.3 L1227.4,231.5 L1227.9,228.2 L1228.5,239.1 L1229.0,223.9 L1229.6,218.1 L1230.1,226.5 L1230.7,212.4 L1231.2,240.3 L1231.7,231.2 L1232.3,232.5 L1232.8,225.4 L1233.4,237.7 L1233.9,216.8 L1234.5,225.2 L1235.0,224.8 L1235.6,224.1 L1236.1,233.5 L1236.6,229.5 L1237.2,237.1 L1237.7,233.2 L1238.3,234.3 L1238.8,230.9 L1239.4,233.0 L1239.9,226.6 L1240.4,221.1 L1241.0,226.1 L1241.5,228.3 L1242.1,252.5 L1242.6,223.3 L1243.2,224.7 L1243.7,224.0 L1244.3,226.1 L1244.8,231.4 L1245.3,228.6 L1245.9,227.3 L1246.4,223.9 L1247.0,229.6 L1247.5,227.2 L1248.1,227.6 L1248.6,227.4 L1249.2,230.3 L1249.7,230.0 L1250.2,223.1 L1250.8,228.7 L1251.3,230.6 L1251.9,232.9 L1252.4,231.8 L1253.0,229.6 L1253.5,224.5 L1254.1,225.8 L1254.6,241.0 L1255.1,225.9 L1255.7,232.5 L1256.2,238.3 L1256.8,229.2 L1257.3,237.9 L1257.9,228.3 L1258.4,235.7 L1259.0,232.1 L1259.5,226.9 L1260.0,230.7 L1260.6,225.5 L1261.1,228.7 L1261.7,231.0 L1262.2,230.1 L1262.8,230.8 L1263.3,226.0 L1263.8,222.1 L1264.4,228.3 L1264.9,226.2 L1265.5,227.0 L1266.0,246.2 L1266.6,245.4 L1267.1,229.3 L1267.7,224.1 L1268.2,224.7 L1268.7,223.7 L1269.3,234.7 L1269.8,229.1 L1270.4,230.9 L1270.9,231.5 L1271.5,234.9 L1272.0,222.6 L1272.6,231.3 L1273.1,232.4 L1273.6,231.6 L1274.2,232.5 L1274.7,226.3 L1275.3,228.5 L1275.8,224.9 L1276.4,231.9 L1276.9,231.9 L1277.5,233.3 L1278.0,227.2 L1278.5,226.5 L1279.1,237.8 L1279.6,238.3 L1280.2,238.8 L1280.7,233.5 L1281.3,225.7 L1281.8,235.2 L1282.3,237.0 L1282.9,230.1 L1283.4,224.2 L1284.0,234.9 L1284.5,224.2 L1285.1,233.3 L1285.6,221.4 L1286.2,240.1 L1286.7,221.1 L1287.2,228.6 L1287.8,231.6 L1288.3,224.6 L1288.9,224.3 L1289.4,229.7 L1290.0,237.6 L1290.5,242.0 L1291.1,230.4 L1291.6,234.6 L1292.1,232.8 L1292.7,231.5 L1293.2,231.8 L1293.8,227.7 L1294.3,233.3 L1294.9,234.2 L1295.4,248.9 L1296.0,233.7 L1296.5,221.3 L1297.0,225.9 L1297.6,231.6 L1298.1,230.6 L1298.7,223.5 L1299.2,229.9 L1299.8,229.1 L1300.3,230.3 L1300.9,230.0 L1301.4,234.0 L1301.9,230.4 L1302.5,233.2 L1303.0,226.0 L1303.6,226.9 L1304.1,227.7 L1304.7,230.1 L1305.2,228.5 L1305.7,228.8 L1306.3,226.3 L1306.8,234.5 L1307.4,234.1 L1307.9,234.6 L1308.5,229.8 L1309.0,232.3 L1309.6,225.8 L1310.1,229.9 L1310.6,227.4 L1311.2,232.9 L1311.7,227.4 L1312.3,224.1 L1312.8,230.3 L1313.4,231.9 L1313.9,230.5 L1314.5,226.1 L1315.0,229.8 L1315.5,227.2 L1316.1,222.7 L1316.6,228.8 L1317.2,233.2 L1317.7,246.3 L1318.3,237.2 L1318.8,232.3 L1319.4,227.0 L1319.9,227.5 L1320.4,227.7 L1321.0,234.7 L1321.5,208.6 L1322.1,230.1 L1322.6,219.2 L1323.2,228.6 L1323.7,234.6 L1324.3,224.1 L1324.8,217.8 L1325.3,233.7 L1325.9,234.3 L1326.4,229.7 L1327.0,232.7 L1327.5,223.9 L1328.1,232.0 L1328.6,233.9 L1329.1,234.4 L1329.7,228.1 L1330.2,231.9 L1330.8,231.3 L1331.3,224.2 L1331.9,226.6 L1332.4,223.6 L1333.0,228.0 L1333.5,232.3 L1334.0,231.1 L1334.6,230.6 L1335.1,226.3 L1335.7,231.2 L1336.2,224.6 L1336.8,232.2 L1337.3,222.9 L1337.9,223.0 L1338.4,230.6 L1338.9,240.7 L1339.5,229.6 L1340.0,231.5 L1340.6,230.7 L1341.1,226.5 L1341.7,229.9 L1342.2,229.4 L1342.8,227.9 L1343.3,232.0 L1343.8,223.6 L1344.4,218.5 L1344.9,209.5 L1345.5,223.3 L1346.0,237.0 L1346.6,226.9 L1347.1,231.6 L1347.6,224.7 L1348.2,234.0 L1348.7,225.3 L1349.3,231.7 L1349.8,234.5 L1350.4,236.5 L1350.9,224.9 L1351.5,232.2 L1352.0,229.6 L1352.5,232.7 L1353.1,231.2 L1353.6,233.4 L1354.2,232.0 L1354.7,230.7 L1355.3,235.4 L1355.8,226.1 L1356.4,234.6 L1356.9,228.5 L1357.4,231.4 L1358.0,225.2 L1358.5,231.7 L1359.1,230.6 L1359.6,230.7 L1360.2,226.7 L1360.7,232.4 L1361.3,233.6 L1361.8,230.5 L1362.3,230.3 L1362.9,230.4 L1363.4,247.4 L1364.0,231.8 L1364.5,225.4 L1365.1,227.1 L1365.6,230.9 L1366.2,229.5 L1366.7,238.9 L1367.2,226.4 L1367.8,233.7 L1368.3,232.4 L1368.9,231.5 L1369.4,226.6 L1370.0,227.7 L1370.5,231.2 L1371.0,230.8 L1371.6,230.3 L1372.1,234.8 L1372.7,234.4 L1373.2,235.1 L1373.8,227.1 L1374.3,230.0 L1374.9,234.7 L1375.4,226.5 L1375.9,238.8 L1376.5,229.3 L1377.0,238.2 L1377.6,227.1 L1378.1,234.3 L1378.7,228.1 L1379.2,230.2 L1379.8,226.1 L1380.3,236.6 L1380.8,223.6 L1381.4,233.1 L1381.9,232.0 L1382.5,232.9 L1383.0,226.1 L1383.6,233.7 L1384.1,235.3 L1384.7,231.6 L1385.2,232.3 L1385.7,236.9 L1386.3,227.2 L1386.8,227.2 L1387.4,233.4 L1387.9,232.7 L1388.5,224.6 L1389.0,219.2 L1389.5,230.3" fill="none" stroke="#eb3f3f" stroke-width="2.0" stroke-linejoin="round"/>
<path d="M84.1,609.7 L84.6,606.8 L85.2,607.9 L85.7,599.0 L86.3,619.4 L86.8,613.7 L87.4,611.1 L87.9,616.7 L88.5,610.1 L89.0,612.2 L89.5,619.3 L90.1,614.4 L90.6,614.4 L91.2,609.6 L91.7,618.3 L92.3,616.3 L92.8,607.9 L93.4,614.6 L93.9,617.5 L94.4,613.8 L95.0,620.4 L95.5,631.3 L96.1,618.6 L96.6,619.0 L97.2,613.8 L97.7,626.5 L98.2,624.5 L98.8,611.7 L99.3,611.3 L99.9,612.1 L100.4,620.0 L101.0,617.4 L101.5,618.2 L102.1,616.2 L102.6,617.2 L103.1,617.3 L103.7,615.8 L104.2,619.0 L104.8,612.6 L105.3,614.8 L105.9,617.0 L106.4,622.0 L107.0,613.8 L107.5,612.8 L108.0,614.5 L108.6,619.7 L109.1,607.0 L109.7,621.1 L110.2,610.3 L110.8,615.4 L111.3,620.5 L111.9,612.0 L112.4,617.6 L112.9,621.5 L113.5,619.2 L114.0,621.2 L114.6,626.2 L115.1,619.1 L115.7,617.4 L116.2,616.0 L116.7,622.9 L117.3,626.0 L117.8,618.6 L118.4,618.9 L118.9,621.9 L119.5,615.8 L120.0,614.3 L120.6,611.2 L121.1,623.0 L121.6,619.2 L122.2,623.8 L122.7,618.7 L123.3,616.2 L123.8,620.0 L124.4,615.7 L124.9,614.4 L125.5,615.6 L126.0,623.7 L126.5,619.4 L127.1,619.5 L127.6,617.5 L128.2,616.3 L128.7,620.9 L129.3,622.4 L129.8,619.1 L130.4,618.0 L130.9,615.8 L131.4,619.0 L132.0,621.8 L132.5,615.9 L133.1,622.7 L133.6,616.0 L134.2,612.5 L134.7,614.6 L135.3,613.0 L135.8,622.0 L136.3,610.7 L136.9,612.9 L137.4,612.4 L138.0,611.4 L138.5,607.9 L139.1,613.0 L139.6,616.8 L140.1,617.7 L140.7,616.5 L141.2,624.5 L141.8,614.7 L142.3,611.1 L142.9,621.7 L143.4,608.2 L144.0,617.4 L144.5,608.4 L145.0,614.4 L145.6,603.6 L146.1,610.5 L146.7,619.7 L147.2,607.8 L147.8,620.0 L148.3,615.5 L148.9,612.0 L149.4,608.1 L149.9,611.0 L150.5,610.2 L151.0,614.0 L151.6,614.0 L152.1,607.0 L152.7,607.2 L153.2,606.8 L153.8,602.8 L154.3,605.6 L154.8,607.1 L155.4,609.8 L155.9,625.4 L156.5,602.3 L157.0,607.2 L157.6,602.6 L158.1,612.2 L158.7,603.2 L159.2,593.3 L159.7,599.0 L160.3,599.2 L160.8,597.4 L161.4,605.0 L161.9,605.2 L162.5,595.7 L163.0,596.9 L163.5,597.7 L164.1,607.4 L164.6,590.1 L165.2,604.5 L165.7,593.1 L166.3,601.3 L166.8,595.9 L167.4,596.8 L167.9,598.1 L168.4,596.1 L169.0,597.5 L169.5,598.5 L170.1,597.3 L170.6,593.7 L171.2,587.9 L171.7,589.3 L172.3,597.3 L172.8,582.5 L173.3,593.5 L173.9,588.9 L174.4,595.1 L175.0,592.8 L175.5,607.3 L176.1,588.7 L176.6,582.8 L177.2,588.1 L177.7,587.8 L178.2,570.3 L178.8,592.4 L179.3,589.9 L179.9,589.6 L180.4,584.4 L181.0,573.3 L181.5,588.0 L182.0,596.6 L182.6,576.5 L183.1,566.9 L183.7,581.0 L184.2,587.1 L184.8,586.3 L185.3,582.3 L185.9,577.5 L186.4,580.8 L186.9,569.7 L187.5,579.2 L188.0,581.2 L188.6,576.8 L189.1,574.6 L189.7,579.4 L190.2,584.5 L190.8,577.8 L191.3,572.7 L191.8,582.0 L192.4,565.2 L192.9,578.2 L193.5,574.0 L194.0,574.1 L194.6,572.3 L195.1,582.5 L195.7,575.5 L196.2,567.4 L196.7,565.8 L197.3,571.5 L197.8,577.1 L198.4,569.9 L198.9,573.4 L199.5,569.4 L200.0,573.2 L200.6,571.4 L201.1,570.8 L201.6,565.3 L202.2,574.1 L202.7,574.7 L203.3,563.4 L203.8,578.4 L204.4,566.9 L204.9,566.3 L205.4,560.0 L206.0,571.0 L206.5,576.3 L207.1,565.0 L207.6,559.3 L208.2,571.0 L208.7,564.1 L209.3,564.3 L209.8,580.0 L210.3,576.4 L210.9,565.7 L211.4,563.2 L212.0,568.6 L212.5,548.5 L213.1,551.7 L213.6,561.1 L214.2,558.4 L214.7,556.9 L215.2,558.6 L215.8,565.9 L216.3,566.3 L216.9,570.0 L217.4,563.9 L218.0,561.1 L218.5,556.4 L219.1,563.1 L219.6,579.6 L220.1,564.7 L220.7,568.9 L221.2,559.4 L221.8,562.6 L222.3,561.2 L222.9,562.3 L223.4,571.9 L224.0,566.6 L224.5,561.6 L225.0,558.4 L225.6,561.0 L226.1,554.8 L226.7,562.4 L227.2,555.0 L227.8,558.7 L228.3,563.5 L228.8,558.1 L229.4,554.6 L229.9,553.5 L230.5,555.8 L231.0,556.8 L231.6,558.3 L232.1,559.7 L232.7,565.6 L233.2,559.5 L233.7,557.9 L234.3,562.0 L234.8,555.8 L235.4,564.7 L235.9,560.5 L236.5,552.9 L237.0,560.8 L237.6,560.6 L238.1,544.9 L238.6,552.7 L239.2,553.4 L239.7,546.3 L240.3,549.7 L240.8,549.8 L241.4,556.1 L241.9,554.7 L242.5,565.1 L243.0,550.0 L243.5,554.5 L244.1,549.4 L244.6,547.4 L245.2,537.1 L245.7,538.0 L246.3,530.6 L246.8,526.5 L247.3,539.6 L247.9,546.3 L248.4,560.5 L249.0,545.1 L249.5,558.3 L250.1,558.6 L250.6,551.0 L251.2,554.4 L251.7,550.9 L252.2,563.1 L252.8,558.5 L253.3,556.3 L253.9,558.7 L254.4,559.0 L255.0,554.9 L255.5,550.9 L256.1,550.6 L256.6,548.2 L257.1,559.1 L257.7,568.1 L258.2,547.6 L258.8,557.1 L259.3,558.3 L259.9,550.5 L260.4,556.7 L261.0,549.1 L261.5,561.5 L262.0,550.9 L262.6,552.4 L263.1,554.0 L263.7,539.5 L264.2,533.0 L264.8,539.8 L265.3,552.3 L265.9,547.9 L266.4,550.4 L266.9,543.1 L267.5,550.7 L268.0,556.8 L268.6,549.8 L269.1,561.1 L269.7,547.9 L270.2,542.6 L270.7,538.8 L271.3,555.8 L271.8,548.1 L272.4,554.6 L272.9,551.1 L273.5,558.0 L274.0,555.0 L274.6,543.8 L275.1,546.7 L275.6,550.5 L276.2,531.0 L276.7,527.0 L277.3,540.3 L277.8,548.0 L278.4,541.5 L278.9,551.3 L279.5,538.6 L280.0,560.5 L280.5,544.5 L281.1,549.4 L281.6,561.2 L282.2,551.6 L282.7,557.6 L283.3,542.6 L283.8,556.7 L284.4,548.4 L284.9,538.0 L285.4,550.7 L286.0,551.4 L286.5,554.0 L287.1,540.9 L287.6,550.4 L288.2,547.8 L288.7,557.7 L289.2,548.9 L289.8,550.5 L290.3,542.4 L290.9,546.7 L291.4,542.5 L292.0,551.0 L292.5,537.3 L293.1,540.2 L293.6,548.3 L294.1,555.3 L294.7,546.0 L295.2,545.0 L295.8,540.5 L296.3,557.3 L296.9,545.0 L297.4,551.9 L298.0,538.9 L298.5,539.1 L299.0,536.0 L299.6,530.9 L300.1,530.9 L300.7,545.6 L301.2,542.2 L301.8,529.6 L302.3,541.2 L302.9,537.2 L303.4,529.8 L303.9,536.9 L304.5,544.0 L305.0,529.4 L305.6,521.3 L306.1,520.0 L306.7,528.3 L307.2,518.1 L307.8,534.2 L308.3,534.0 L308.8,527.8 L309.4,520.7 L309.9,527.8 L310.5,524.5 L311.0,526.4 L311.6,534.4 L312.1,519.9 L312.6,527.7 L313.2,526.8 L313.7,521.8 L314.3,533.7 L314.8,517.2 L315.4,509.8 L315.9,522.9 L316.5,528.7 L317.0,517.1 L317.5,536.7 L318.1,517.5 L318.6,520.6 L319.2,518.2 L319.7,519.8 L320.3,525.5 L320.8,515.4 L321.4,524.9 L321.9,523.5 L322.4,510.9 L323.0,509.6 L323.5,497.0 L324.1,517.5 L324.6,512.8 L325.2,512.1 L325.7,502.9 L326.3,505.7 L326.8,508.9 L327.3,505.5 L327.9,503.1 L328.4,505.0 L329.0,506.5 L329.5,514.4 L330.1,495.6 L330.6,501.1 L331.2,497.3 L331.7,493.0 L332.2,493.2 L332.8,494.0 L333.3,501.3 L333.9,491.4 L334.4,492.4 L335.0,497.1 L335.5,493.3 L336.0,490.4 L336.6,503.5 L337.1,493.1 L337.7,508.9 L338.2,498.5 L338.8,483.0 L339.3,477.4 L339.9,490.4 L340.4,481.5 L340.9,496.0 L341.5,474.6 L342.0,487.2 L342.6,472.8 L343.1,475.3 L343.7,480.0 L344.2,466.5 L344.8,468.9 L345.3,468.8 L345.8,466.8 L346.4,467.8 L346.9,468.5 L347.5,465.5 L348.0,460.4 L348.6,455.0 L349.1,448.8 L349.7,461.5 L350.2,450.3 L350.7,457.0 L351.3,448.6 L351.8,443.7 L352.4,454.6 L352.9,445.2 L353.5,444.8 L354.0,446.7 L354.5,451.3 L355.1,432.9 L355.6,440.2 L356.2,447.6 L356.7,443.6 L357.3,439.8 L357.8,441.0 L358.4,448.6 L358.9,445.2 L359.4,446.4 L360.0,446.1 L360.5,463.0 L361.1,442.5 L361.6,435.1 L362.2,434.6 L362.7,419.1 L363.3,442.2 L363.8,433.7 L364.3,427.6 L364.9,427.7 L365.4,444.1 L366.0,436.9 L366.5,430.6 L367.1,433.5 L367.6,417.6 L368.2,426.2 L368.7,427.2 L369.2,414.9 L369.8,428.9 L370.3,430.7 L370.9,412.1 L371.4,406.7 L372.0,411.4 L372.5,413.2 L373.1,409.6 L373.6,402.8 L374.1,409.8 L374.7,408.1 L375.2,412.8 L375.8,411.7 L376.3,401.6 L376.9,403.8 L377.4,405.6 L377.9,404.9 L378.5,398.3 L379.0,394.7 L379.6,412.5 L380.1,391.9 L380.7,376.5 L381.2,382.7 L381.8,394.8 L382.3,387.0 L382.8,388.9 L383.4,391.0 L383.9,392.1 L384.5,413.2 L385.0,375.7 L385.6,377.8 L386.1,385.9 L386.7,380.4 L387.2,384.9 L387.7,379.9 L388.3,361.1 L388.8,376.4 L389.4,374.8 L389.9,367.7 L390.5,373.0 L391.0,375.7 L391.6,381.5 L392.1,373.0 L392.6,370.4 L393.2,371.7 L393.7,371.9 L394.3,382.0 L394.8,375.8 L395.4,365.9 L395.9,391.7 L396.5,380.8 L397.0,368.1 L397.5,371.6 L398.1,359.9 L398.6,367.6 L399.2,363.9 L399.7,375.2 L400.3,353.9 L400.8,366.2 L401.3,365.7 L401.9,368.5 L402.4,366.0 L403.0,360.2 L403.5,354.9 L404.1,356.9 L404.6,370.0 L405.2,357.8 L405.7,363.6 L406.2,350.3 L406.8,349.0 L407.3,357.5 L407.9,358.0 L408.4,367.4 L409.0,364.6 L409.5,373.6 L410.1,346.8 L410.6,349.7 L411.1,361.3 L411.7,356.9 L412.2,354.3 L412.8,374.2 L413.3,350.8 L413.9,355.7 L414.4,356.0 L415.0,352.9 L415.5,356.1 L416.0,365.7 L416.6,356.2 L417.1,336.1 L417.7,348.0 L418.2,353.3 L418.8,351.7 L419.3,338.7 L419.8,345.2 L420.4,351.5 L420.9,344.7 L421.5,343.7 L422.0,327.5 L422.6,348.6 L423.1,336.7 L423.7,344.6 L424.2,348.9 L424.7,327.9 L425.3,319.0 L425.8,329.7 L426.4,328.7 L426.9,317.8 L427.5,312.8 L428.0,328.7 L428.6,315.1 L429.1,308.7 L429.6,308.0 L430.2,310.4 L430.7,311.8 L431.3,318.8 L431.8,316.2 L432.4,327.9 L432.9,321.7 L433.5,331.8 L434.0,336.0 L434.5,322.0 L435.1,333.8 L435.6,335.5 L436.2,342.3 L436.7,329.2 L437.3,343.4 L437.8,345.4 L438.4,350.4 L438.9,355.1 L439.4,349.2 L440.0,352.6 L440.5,364.1 L441.1,361.7 L441.6,359.5 L442.2,362.6 L442.7,359.7 L443.2,361.8 L443.8,344.9 L444.3,362.8 L444.9,367.0 L445.4,355.1 L446.0,357.1 L446.5,374.3 L447.1,372.4 L447.6,365.8 L448.1,371.9 L448.7,355.0 L449.2,364.6 L449.8,369.5 L450.3,351.1 L450.9,359.3 L451.4,370.7 L452.0,373.1 L452.5,354.8 L453.0,360.9 L453.6,368.7 L454.1,360.5 L454.7,359.1 L455.2,366.4 L455.8,365.6 L456.3,376.5 L456.9,370.0 L457.4,362.2 L457.9,378.5 L458.5,376.7 L459.0,377.7 L459.6,379.0 L460.1,373.9 L460.7,399.6 L461.2,383.9 L461.7,381.7 L462.3,375.2 L462.8,365.1 L463.4,386.1 L463.9,387.6 L464.5,395.4 L465.0,389.6 L465.6,399.9 L466.1,397.8 L466.6,379.6 L467.2,393.8 L467.7,382.2 L468.3,378.7 L468.8,397.8 L469.4,391.2 L469.9,393.7 L470.5,392.3 L471.0,403.4 L471.5,404.7 L472.1,399.1 L472.6,402.1 L473.2,397.5 L473.7,407.5 L474.3,394.5 L474.8,399.8 L475.4,395.7 L475.9,402.9 L476.4,406.2 L477.0,403.6 L477.5,409.6 L478.1,419.5 L478.6,390.5 L479.2,404.3 L479.7,401.4 L480.3,409.5 L480.8,397.9 L481.3,407.4 L481.9,406.2 L482.4,404.6 L483.0,411.3 L483.5,406.2 L484.1,397.7 L484.6,418.3 L485.1,410.0 L485.7,406.6 L486.2,414.9 L486.8,409.5 L487.3,407.8 L487.9,420.2 L488.4,404.9 L489.0,415.4 L489.5,417.0 L490.0,425.2 L490.6,424.9 L491.1,419.4 L491.7,416.3 L492.2,417.4 L492.8,437.9 L493.3,432.8 L493.9,426.0 L494.4,419.6 L494.9,430.8 L495.5,423.0 L496.0,423.6 L496.6,425.1 L497.1,431.1 L497.7,429.7 L498.2,434.6 L498.8,436.9 L499.3,428.6 L499.8,415.3 L500.4,419.6 L500.9,431.3 L501.5,430.3 L502.0,446.9 L502.6,431.1 L503.1,430.7 L503.7,437.4 L504.2,432.7 L504.7,431.2 L505.3,435.9 L505.8,426.4 L506.4,427.9 L506.9,441.8 L507.5,425.9 L508.0,440.7 L508.5,450.5 L509.1,440.6 L509.6,441.9 L510.2,440.2 L510.7,423.9 L511.3,431.4 L511.8,427.3 L512.4,444.2 L512.9,432.0 L513.4,435.0 L514.0,437.4 L514.5,445.5 L515.1,425.1 L515.6,435.4 L516.2,444.3 L516.7,431.7 L517.3,442.4 L517.8,437.4 L518.3,442.6 L518.9,449.7 L519.4,433.4 L520.0,440.3 L520.5,441.2 L521.1,460.0 L521.6,438.3 L522.2,438.6 L522.7,434.3 L523.2,437.2 L523.8,442.7 L524.3,429.2 L524.9,438.6 L525.4,438.9 L526.0,431.6 L526.5,433.5 L527.0,427.9 L527.6,430.9 L528.1,426.8 L528.7,429.5 L529.2,427.4 L529.8,425.9 L530.3,427.7 L530.9,439.7 L531.4,427.3 L531.9,427.3 L532.5,420.5 L533.0,425.9 L533.6,417.6 L534.1,429.8 L534.7,421.8 L535.2,427.0 L535.8,440.9 L536.3,424.3 L536.8,432.7 L537.4,427.6 L537.9,427.3 L538.5,419.6 L539.0,425.5 L539.6,417.3 L540.1,406.0 L540.7,411.0 L541.2,417.6 L541.7,423.0 L542.3,432.2 L542.8,429.8 L543.4,432.3 L543.9,438.1 L544.5,443.4 L545.0,435.8 L545.6,444.0 L546.1,429.7 L546.6,438.8 L547.2,437.8 L547.7,439.7 L548.3,432.4 L548.8,433.7 L549.4,439.3 L549.9,437.4 L550.4,440.6 L551.0,433.7 L551.5,437.0 L552.1,434.3 L552.6,437.3 L553.2,434.9 L553.7,437.9 L554.3,439.4 L554.8,438.0 L555.3,430.2 L555.9,441.8 L556.4,436.6 L557.0,440.8 L557.5,431.7 L558.1,428.5 L558.6,437.7 L559.2,432.2 L559.7,424.4 L560.2,436.3 L560.8,433.9 L561.3,442.5 L561.9,428.7 L562.4,443.8 L563.0,441.5 L563.5,436.4 L564.1,446.4 L564.6,428.6 L565.1,441.6 L565.7,434.9 L566.2,439.1 L566.8,434.8 L567.3,432.6 L567.9,432.0 L568.4,437.1 L569.0,442.8 L569.5,445.9 L570.0,445.8 L570.6,439.1 L571.1,439.1 L571.7,428.9 L572.2,438.1 L572.8,436.0 L573.3,434.9 L573.8,432.4 L574.4,419.0 L574.9,432.0 L575.5,434.7 L576.0,440.2 L576.6,438.9 L577.1,441.7 L577.7,442.3 L578.2,439.2 L578.7,431.9 L579.3,436.7 L579.8,438.7 L580.4,448.6 L580.9,435.6 L581.5,427.7 L582.0,442.7 L582.6,431.2 L583.1,442.9 L583.6,419.8 L584.2,431.9 L584.7,445.1 L585.3,438.0 L585.8,435.1 L586.4,452.5 L586.9,437.1 L587.5,441.6 L588.0,435.6 L588.5,436.3 L589.1,437.4 L589.6,440.4 L590.2,446.6 L590.7,436.2 L591.3,441.3 L591.8,444.6 L592.3,456.2 L592.9,449.3 L593.4,423.3 L594.0,438.5 L594.5,439.2 L595.1,443.5 L595.6,454.3 L596.2,445.9 L596.7,427.8 L597.2,443.2 L597.8,442.0 L598.3,443.7 L598.9,449.0 L599.4,435.3 L600.0,442.2 L600.5,436.2 L601.1,442.0 L601.6,443.9 L602.1,454.0 L602.7,438.7 L603.2,433.9 L603.8,446.2 L604.3,439.7 L604.9,457.2 L605.4,440.0 L606.0,440.5 L606.5,449.8 L607.0,443.8 L607.6,449.1 L608.1,437.9 L608.7,452.7 L609.2,442.5 L609.8,449.4 L610.3,436.7 L610.9,439.0 L611.4,445.3 L611.9,449.3 L612.5,454.6 L613.0,449.3 L613.6,443.3 L614.1,451.6 L614.7,463.3 L615.2,445.9 L615.7,455.9 L616.3,450.1 L616.8,452.6 L617.4,449.6 L617.9,457.8 L618.5,447.8 L619.0,448.1 L619.6,450.9 L620.1,449.1 L620.6,443.8 L621.2,460.4 L621.7,453.5 L622.3,461.0 L622.8,455.0 L623.4,458.3 L623.9,459.1 L624.5,470.0 L625.0,460.1 L625.5,445.3 L626.1,456.7 L626.6,460.9 L627.2,453.8 L627.7,460.1 L628.3,461.0 L628.8,451.0 L629.4,461.3 L629.9,469.2 L630.4,465.6 L631.0,460.2 L631.5,468.7 L632.1,468.2 L632.6,476.4 L633.2,462.5 L633.7,464.8 L634.3,467.4 L634.8,466.9 L635.3,468.5 L635.9,461.3 L636.4,465.5 L637.0,461.3 L637.5,467.1 L638.1,460.2 L638.6,465.5 L639.1,468.4 L639.7,474.1 L640.2,476.2 L640.8,467.2 L641.3,474.4 L641.9,477.4 L642.4,473.6 L643.0,466.1 L643.5,462.2 L644.0,480.5 L644.6,482.4 L645.1,480.2 L645.7,478.0 L646.2,480.5 L646.8,488.8 L647.3,479.1 L647.9,482.3 L648.4,472.8 L648.9,490.5 L649.5,469.7 L650.0,487.6 L650.6,487.8 L651.1,484.1 L651.7,492.5 L652.2,481.6 L652.8,486.8 L653.3,488.0 L653.8,484.9 L654.4,481.3 L654.9,484.6 L655.5,486.3 L656.0,484.3 L656.6,488.2 L657.1,486.3 L657.6,499.3 L658.2,487.8 L658.7,486.8 L659.3,486.2 L659.8,482.9 L660.4,469.5 L660.9,493.3 L661.5,492.5 L662.0,487.0 L662.5,485.0 L663.1,491.4 L663.6,491.9 L664.2,499.9 L664.7,497.7 L665.3,496.3 L665.8,496.6 L666.4,501.3 L666.9,494.2 L667.4,502.0 L668.0,492.9 L668.5,500.4 L669.1,500.9 L669.6,496.8 L670.2,508.2 L670.7,492.5 L671.3,491.8 L671.8,492.4 L672.3,495.2 L672.9,500.4 L673.4,498.3 L674.0,500.7 L674.5,499.8 L675.1,499.7 L675.6,506.4 L676.2,505.4 L676.7,498.3 L677.2,509.4 L677.8,496.9 L678.3,502.6 L678.9,508.1 L679.4,506.5 L680.0,511.3 L680.5,508.3 L681.0,500.9 L681.6,505.3 L682.1,504.7 L682.7,512.1 L683.2,514.7 L683.8,521.9 L684.3,512.8 L684.9,503.9 L685.4,507.0 L685.9,507.3 L686.5,501.5 L687.0,507.3 L687.6,512.0 L688.1,516.5 L688.7,513.8 L689.2,510.8 L689.8,514.8 L690.3,517.3 L690.8,518.5 L691.4,502.8 L691.9,512.4 L692.5,522.4 L693.0,521.3 L693.6,525.3 L694.1,524.5 L694.7,509.5 L695.2,519.6 L695.7,522.4 L696.3,521.5 L696.8,518.2 L697.4,520.3 L697.9,519.6 L698.5,526.8 L699.0,525.0 L699.5,520.4 L700.1,523.9 L700.6,519.7 L701.2,527.0 L701.7,515.5 L702.3,521.5 L702.8,521.7 L703.4,522.7 L703.9,521.9 L704.4,518.9 L705.0,519.2 L705.5,524.8 L706.1,514.4 L706.6,530.6 L707.2,520.7 L707.7,531.1 L708.3,526.5 L708.8,519.1 L709.3,525.0 L709.9,518.3 L710.4,524.7 L711.0,527.0 L711.5,521.2 L712.1,521.5 L712.6,520.0 L713.2,513.5 L713.7,525.2 L714.2,528.1 L714.8,528.5 L715.3,529.5 L715.9,525.7 L716.4,531.3 L717.0,517.7 L717.5,525.3 L718.1,525.3 L718.6,530.6 L719.1,529.2 L719.7,529.4 L720.2,525.7 L720.8,529.4 L721.3,521.0 L721.9,525.3 L722.4,516.2 L722.9,531.9 L723.5,531.5 L724.0,522.7 L724.6,526.2 L725.1,516.9 L725.7,519.3 L726.2,526.3 L726.8,525.4 L727.3,519.9 L727.8,524.9 L728.4,523.6 L728.9,528.7 L729.5,527.5 L730.0,525.7 L730.6,529.3 L731.1,523.2 L731.7,515.8 L732.2,526.4 L732.7,524.3 L733.3,527.4 L733.8,520.1 L734.4,536.4 L734.9,516.5 L735.5,520.3 L736.0,524.5 L736.6,508.7 L737.1,504.5 L737.6,500.0 L738.2,505.7 L738.7,509.1 L739.3,519.3 L739.8,513.1 L740.4,528.3 L740.9,518.4 L741.5,517.1 L742.0,522.8 L742.5,529.3 L743.1,518.5 L743.6,526.9 L744.2,526.3 L744.7,523.1 L745.3,526.5 L745.8,522.1 L746.3,525.5 L746.9,531.3 L747.4,546.3 L748.0,538.3 L748.5,528.1 L749.1,532.9 L749.6,532.0 L750.2,534.5 L750.7,540.3 L751.2,531.2 L751.8,539.7 L752.3,533.5 L752.9,535.8 L753.4,541.2 L754.0,536.6 L754.5,540.5 L755.1,538.7 L755.6,537.9 L756.1,537.5 L756.7,532.6 L757.2,536.7 L757.8,540.6 L758.3,541.1 L758.9,534.9 L759.4,544.9 L760.0,551.8 L760.5,536.4 L761.0,537.6 L761.6,543.9 L762.1,535.0 L762.7,539.1 L763.2,541.9 L763.8,541.5 L764.3,541.7 L764.8,543.5 L765.4,538.5 L765.9,539.7 L766.5,550.0 L767.0,535.7 L767.6,539.5 L768.1,541.7 L768.7,542.2 L769.2,541.2 L769.7,541.3 L770.3,544.5 L770.8,530.2 L771.4,545.7 L771.9,545.6 L772.5,540.8 L773.0,546.8 L773.6,543.0 L774.1,544.1 L774.6,550.0 L775.2,555.4 L775.7,539.9 L776.3,544.3 L776.8,539.8 L777.4,541.9 L777.9,542.3 L778.5,529.3 L779.0,549.9 L779.5,548.6 L780.1,541.7 L780.6,549.8 L781.2,538.4 L781.7,542.5 L782.3,541.6 L782.8,546.8 L783.4,548.0 L783.9,546.8 L784.4,545.7 L785.0,547.9 L785.5,550.8 L786.1,541.3 L786.6,533.0 L787.2,542.9 L787.7,548.4 L788.2,546.2 L788.8,548.6 L789.3,547.7 L789.9,546.8 L790.4,548.0 L791.0,541.2 L791.5,549.1 L792.1,543.2 L792.6,543.6 L793.1,537.8 L793.7,546.1 L794.2,536.9 L794.8,550.0 L795.3,538.2 L795.9,544.6 L796.4,547.2 L797.0,537.9 L797.5,548.8 L798.0,540.5 L798.6,549.4 L799.1,536.8 L799.7,537.3 L800.2,530.5 L800.8,542.5 L801.3,543.5 L801.9,539.0 L802.4,528.4 L802.9,525.7 L803.5,554.4 L804.0,535.9 L804.6,521.9 L805.1,527.6 L805.7,515.3 L806.2,533.3 L806.8,529.7 L807.3,527.0 L807.8,521.5 L808.4,517.7 L808.9,512.5 L809.5,520.1 L810.0,512.6 L810.6,515.8 L811.1,510.1 L811.6,510.2 L812.2,514.4 L812.7,516.3 L813.3,510.4 L813.8,503.0 L814.4,495.6 L814.9,496.0 L815.5,492.0 L816.0,499.8 L816.5,513.9 L817.1,506.0 L817.6,503.6 L818.2,499.8 L818.7,496.1 L819.3,501.3 L819.8,496.9 L820.4,517.6 L820.9,508.9 L821.4,507.6 L822.0,522.1 L822.5,512.0 L823.1,509.5 L823.6,510.5 L824.2,524.2 L824.7,523.2 L825.3,523.4 L825.8,539.3 L826.3,526.0 L826.9,525.1 L827.4,556.3 L828.0,542.3 L828.5,548.5 L829.1,546.1 L829.6,554.6 L830.1,556.8 L830.7,546.2 L831.2,550.8 L831.8,543.8 L832.3,538.8 L832.9,546.4 L833.4,573.8 L834.0,541.8 L834.5,542.8 L835.0,556.0 L835.6,550.6 L836.1,544.4 L836.7,546.0 L837.2,549.0 L837.8,553.3 L838.3,563.7 L838.9,554.3 L839.4,561.6 L839.9,550.6 L840.5,544.0 L841.0,549.8 L841.6,551.6 L842.1,574.1 L842.7,550.3 L843.2,551.5 L843.8,556.0 L844.3,549.5 L844.8,548.7 L845.4,551.2 L845.9,556.5 L846.5,554.0 L847.0,550.4 L847.6,553.4 L848.1,546.0 L848.7,556.1 L849.2,564.2 L849.7,545.4 L850.3,555.4 L850.8,561.5 L851.4,544.1 L851.9,549.5 L852.5,550.3 L853.0,557.6 L853.5,548.8 L854.1,556.5 L854.6,555.3 L855.2,561.2 L855.7,560.2 L856.3,557.4 L856.8,558.9 L857.4,560.3 L857.9,548.4 L858.4,564.4 L859.0,557.3 L859.5,551.2 L860.1,559.9 L860.6,566.8 L861.2,558.4 L861.7,555.3 L862.3,570.0 L862.8,563.4 L863.3,562.5 L863.9,565.5 L864.4,552.3 L865.0,561.9 L865.5,561.1 L866.1,571.5 L866.6,561.3 L867.2,560.0 L867.7,556.6 L868.2,559.2 L868.8,561.9 L869.3,564.0 L869.9,564.8 L870.4,571.7 L871.0,565.5 L871.5,566.3 L872.0,569.6 L872.6,566.8 L873.1,562.2 L873.7,558.1 L874.2,566.4 L874.8,561.7 L875.3,566.2 L875.9,562.4 L876.4,556.4 L876.9,571.1 L877.5,570.4 L878.0,565.1 L878.6,566.7 L879.1,566.5 L879.7,572.7 L880.2,566.7 L880.8,565.0 L881.3,555.4 L881.8,558.1 L882.4,569.8 L882.9,568.4 L883.5,560.0 L884.0,565.8 L884.6,564.5 L885.1,556.4 L885.7,561.9 L886.2,556.8 L886.7,558.7 L887.3,546.4 L887.8,563.1 L888.4,573.2 L888.9,562.9 L889.5,574.3 L890.0,565.9 L890.6,560.7 L891.1,561.9 L891.6,562.4 L892.2,567.8 L892.7,559.4 L893.3,564.0 L893.8,562.5 L894.4,564.2 L894.9,564.2 L895.4,563.7 L896.0,567.3 L896.5,562.1 L897.1,566.2 L897.6,566.6 L898.2,554.9 L898.7,568.5 L899.3,565.8 L899.8,569.0 L900.3,571.2 L900.9,569.1 L901.4,563.0 L902.0,568.6 L902.5,560.9 L903.1,563.8 L903.6,572.1 L904.2,558.1 L904.7,571.0 L905.2,564.2 L905.8,563.1 L906.3,566.0 L906.9,566.9 L907.4,562.7 L908.0,565.3 L908.5,564.5 L909.1,568.2 L909.6,564.2 L910.1,563.0 L910.7,563.2 L911.2,562.2 L911.8,556.7 L912.3,565.1 L912.9,570.3 L913.4,567.2 L914.0,571.3 L914.5,565.5 L915.0,559.7 L915.6,570.1 L916.1,566.4 L916.7,565.2 L917.2,563.5 L917.8,565.3 L918.3,561.3 L918.8,565.7 L919.4,563.1 L919.9,564.5 L920.5,567.8 L921.0,563.6 L921.6,568.5 L922.1,558.0 L922.7,560.0 L923.2,560.5 L923.7,560.1 L924.3,563.8 L924.8,566.6 L925.4,556.6 L925.9,567.6 L926.5,567.7 L927.0,562.6 L927.6,572.4 L928.1,571.9 L928.6,563.3 L929.2,566.2 L929.7,562.8 L930.3,563.9 L930.8,565.3 L931.4,567.0 L931.9,567.0 L932.5,559.1 L933.0,557.3 L933.5,564.1 L934.1,564.6 L934.6,561.3 L935.2,566.3 L935.7,567.7 L936.3,570.8 L936.8,571.6 L937.3,562.7 L937.9,566.5 L938.4,573.0 L939.0,568.9 L939.5,562.9 L940.1,562.3 L940.6,571.1 L941.2,574.4 L941.7,569.6 L942.2,571.6 L942.8,563.7 L943.3,567.0 L943.9,572.4 L944.4,560.4 L945.0,568.2 L945.5,569.8 L946.1,574.6 L946.6,568.5 L947.1,571.5 L947.7,563.4 L948.2,564.3 L948.8,577.1 L949.3,568.4 L949.9,567.7 L950.4,572.2 L951.0,572.6 L951.5,561.9 L952.0,566.2 L952.6,570.7 L953.1,570.6 L953.7,565.6 L954.2,568.8 L954.8,570.9 L955.3,571.7 L955.9,584.1 L956.4,567.0 L956.9,568.3 L957.5,570.9 L958.0,570.2 L958.6,566.1 L959.1,569.7 L959.7,570.6 L960.2,572.3 L960.7,572.4 L961.3,578.3 L961.8,566.2 L962.4,563.0 L962.9,573.2 L963.5,567.1 L964.0,573.2 L964.6,575.4 L965.1,555.2 L965.6,573.1 L966.2,571.4 L966.7,567.7 L967.3,571.7 L967.8,567.4 L968.4,570.2 L968.9,574.7 L969.5,573.2 L970.0,572.2 L970.5,572.8 L971.1,566.0 L971.6,577.8 L972.2,578.3 L972.7,573.8 L973.3,566.8 L973.8,566.8 L974.4,572.4 L974.9,573.4 L975.4,565.1 L976.0,559.0 L976.5,570.5 L977.1,568.2 L977.6,576.7 L978.2,583.5 L978.7,563.2 L979.3,568.4 L979.8,559.4 L980.3,569.7 L980.9,573.3 L981.4,567.9 L982.0,564.1 L982.5,571.2 L983.1,570.9 L983.6,567.0 L984.1,560.0 L984.7,564.1 L985.2,575.2 L985.8,570.4 L986.3,565.8 L986.9,568.7 L987.4,565.6 L988.0,573.5 L988.5,571.1 L989.0,562.0 L989.6,569.8 L990.1,573.3 L990.7,584.7 L991.2,567.3 L991.8,574.7 L992.3,564.4 L992.9,564.7 L993.4,574.8 L993.9,568.8 L994.5,562.8 L995.0,577.3 L995.6,567.9 L996.1,570.6 L996.7,574.2 L997.2,574.2 L997.8,572.1 L998.3,575.3 L998.8,575.2 L999.4,562.0 L999.9,565.6 L1000.5,561.7 L1001.0,578.8 L1001.6,576.0 L1002.1,567.3 L1002.6,575.0 L1003.2,571.5 L1003.7,564.6 L1004.3,569.5 L1004.8,576.7 L1005.4,574.3 L1005.9,590.6 L1006.5,585.3 L1007.0,567.9 L1007.5,569.8 L1008.1,576.4 L1008.6,573.1 L1009.2,575.8 L1009.7,583.2 L1010.3,576.4 L1010.8,570.8 L1011.4,573.7 L1011.9,569.8 L1012.4,569.4 L1013.0,577.9 L1013.5,564.0 L1014.1,569.0 L1014.6,576.4 L1015.2,578.2 L1015.7,583.0 L1016.3,574.1 L1016.8,576.2 L1017.3,578.4 L1017.9,569.4 L1018.4,572.5 L1019.0,566.8 L1019.5,581.5 L1020.1,580.8 L1020.6,581.4 L1021.2,572.6 L1021.7,566.0 L1022.2,574.1 L1022.8,570.5 L1023.3,574.3 L1023.9,578.3 L1024.4,570.5 L1025.0,572.9 L1025.5,575.5 L1026.0,569.2 L1026.6,575.6 L1027.1,575.5 L1027.7,574.1 L1028.2,577.7 L1028.8,575.4 L1029.3,574.7 L1029.9,567.7 L1030.4,562.7 L1030.9,569.3 L1031.5,572.9 L1032.0,573.4 L1032.6,564.4 L1033.1,571.2 L1033.7,572.1 L1034.2,565.7 L1034.8,574.5 L1035.3,570.5 L1035.8,576.0 L1036.4,572.2 L1036.9,581.0 L1037.5,558.2 L1038.0,572.7 L1038.6,570.0 L1039.1,575.7 L1039.7,571.8 L1040.2,574.6 L1040.7,574.7 L1041.3,566.6 L1041.8,566.5 L1042.4,566.0 L1042.9,559.5 L1043.5,567.8 L1044.0,571.9 L1044.5,573.7 L1045.1,572.3 L1045.6,564.3 L1046.2,572.1 L1046.7,566.6 L1047.3,570.8 L1047.8,573.2 L1048.4,569.1 L1048.9,569.1 L1049.4,567.9 L1050.0,572.2 L1050.5,568.3 L1051.1,563.7 L1051.6,567.8 L1052.2,565.0 L1052.7,563.3 L1053.3,569.5 L1053.8,563.3 L1054.3,570.9 L1054.9,570.4 L1055.4,571.3 L1056.0,568.3 L1056.5,570.6 L1057.1,576.8 L1057.6,574.7 L1058.2,572.2 L1058.7,580.5 L1059.2,570.4 L1059.8,578.0 L1060.3,566.4 L1060.9,565.2 L1061.4,567.7 L1062.0,565.3 L1062.5,565.1 L1063.1,576.2 L1063.6,558.1 L1064.1,576.4 L1064.7,570.3 L1065.2,574.2 L1065.8,569.9 L1066.3,578.1 L1066.9,573.4 L1067.4,572.6 L1067.9,573.8 L1068.5,583.7 L1069.0,576.4 L1069.6,578.0 L1070.1,569.0 L1070.7,571.5 L1071.2,575.5 L1071.8,566.2 L1072.3,579.9 L1072.8,575.2 L1073.4,573.9 L1073.9,573.1 L1074.5,572.9 L1075.0,571.7 L1075.6,580.1 L1076.1,577.0 L1076.7,579.5 L1077.2,588.0 L1077.7,569.9 L1078.3,578.0 L1078.8,568.5 L1079.4,571.3 L1079.9,577.5 L1080.5,579.3 L1081.0,568.2 L1081.6,573.1 L1082.1,574.6 L1082.6,577.2 L1083.2,570.5 L1083.7,578.4 L1084.3,572.1 L1084.8,572.2 L1085.4,563.3 L1085.9,574.1 L1086.5,565.3 L1087.0,577.9 L1087.5,576.8 L1088.1,572.0 L1088.6,575.1 L1089.2,560.7 L1089.7,573.5 L1090.3,575.9 L1090.8,573.6 L1091.3,574.6 L1091.9,570.6 L1092.4,578.2 L1093.0,573.5 L1093.5,574.4 L1094.1,577.8 L1094.6,572.9 L1095.2,573.1 L1095.7,578.0 L1096.2,579.7 L1096.8,578.3 L1097.3,576.5 L1097.9,575.9 L1098.4,576.0 L1099.0,578.0 L1099.5,572.3 L1100.1,571.8 L1100.6,575.9 L1101.1,572.7 L1101.7,572.1 L1102.2,576.4 L1102.8,580.6 L1103.3,577.4 L1103.9,581.5 L1104.4,572.8 L1105.0,592.1 L1105.5,576.9 L1106.0,573.4 L1106.6,575.3 L1107.1,573.6 L1107.7,576.1 L1108.2,574.0 L1108.8,581.9 L1109.3,575.5 L1109.8,578.9 L1110.4,576.1 L1110.9,582.2 L1111.5,575.6 L1112.0,582.5 L1112.6,573.3 L1113.1,573.5 L1113.7,577.3 L1114.2,576.6 L1114.7,591.4 L1115.3,578.4 L1115.8,578.7 L1116.4,576.8 L1116.9,575.9 L1117.5,580.5 L1118.0,575.0 L1118.6,586.9 L1119.1,579.2 L1119.6,575.4 L1120.2,571.5 L1120.7,578.5 L1121.3,580.7 L1121.8,577.8 L1122.4,571.2 L1122.9,579.2 L1123.5,583.4 L1124.0,572.5 L1124.5,567.6 L1125.1,576.1 L1125.6,577.2 L1126.2,579.6 L1126.7,579.7 L1127.3,577.2 L1127.8,578.8 L1128.4,578.1 L1128.9,569.9 L1129.4,576.7 L1130.0,576.5 L1130.5,586.3 L1131.1,578.5 L1131.6,575.7 L1132.2,581.0 L1132.7,574.8 L1133.2,578.6 L1133.8,578.0 L1134.3,573.1 L1134.9,576.4 L1135.4,580.7 L1136.0,580.7 L1136.5,573.7 L1137.1,573.9 L1137.6,573.9 L1138.1,577.1 L1138.7,577.7 L1139.2,570.8 L1139.8,578.9 L1140.3,577.8 L1140.9,577.1 L1141.4,574.6 L1142.0,576.2 L1142.5,569.8 L1143.0,575.2 L1143.6,577.0 L1144.1,575.4 L1144.7,570.7 L1145.2,580.4 L1145.8,579.6 L1146.3,566.8 L1146.9,573.6 L1147.4,574.7 L1147.9,559.6 L1148.5,575.8 L1149.0,576.2 L1149.6,576.4 L1150.1,573.7 L1150.7,569.9 L1151.2,570.4 L1151.8,575.0 L1152.3,577.9 L1152.8,570.4 L1153.4,571.3 L1153.9,575.8 L1154.5,576.3 L1155.0,591.9 L1155.6,571.9 L1156.1,563.3 L1156.6,576.7 L1157.2,569.4 L1157.7,577.0 L1158.3,579.7 L1158.8,556.0 L1159.4,568.9 L1159.9,570.3 L1160.5,563.3 L1161.0,577.5 L1161.5,575.4 L1162.1,578.7 L1162.6,567.7 L1163.2,580.1 L1163.7,576.8 L1164.3,548.9 L1164.8,578.3 L1165.4,574.5 L1165.9,575.5 L1166.4,570.0 L1167.0,577.5 L1167.5,569.7 L1168.1,574.5 L1168.6,574.2 L1169.2,578.7 L1169.7,573.0 L1170.3,573.8 L1170.8,573.7 L1171.3,570.7 L1171.9,578.5 L1172.4,577.6 L1173.0,580.3 L1173.5,572.8 L1174.1,577.2 L1174.6,569.5 L1175.1,569.4 L1175.7,579.8 L1176.2,582.4 L1176.8,579.0 L1177.3,560.6 L1177.9,575.8 L1178.4,568.9 L1179.0,563.6 L1179.5,574.8 L1180.0,570.0 L1180.6,569.5 L1181.1,566.0 L1181.7,572.8 L1182.2,577.1 L1182.8,572.2 L1183.3,583.8 L1183.9,562.8 L1184.4,566.8 L1184.9,572.7 L1185.5,563.1 L1186.0,570.3 L1186.6,572.4 L1187.1,568.8 L1187.7,566.0 L1188.2,572.1 L1188.8,569.1 L1189.3,570.4 L1189.8,569.1 L1190.4,571.8 L1190.9,559.5 L1191.5,563.0 L1192.0,565.6 L1192.6,563.3 L1193.1,569.2 L1193.7,565.2 L1194.2,560.0 L1194.7,551.0 L1195.3,555.5 L1195.8,568.7 L1196.4,567.4 L1196.9,561.1 L1197.5,564.2 L1198.0,581.9 L1198.5,550.9 L1199.1,575.3 L1199.6,570.9 L1200.2,562.2 L1200.7,571.3 L1201.3,571.3 L1201.8,581.9 L1202.4,573.4 L1202.9,568.5 L1203.4,580.7 L1204.0,578.9 L1204.5,576.2 L1205.1,575.8 L1205.6,570.9 L1206.2,582.5 L1206.7,572.4 L1207.3,566.0 L1207.8,579.3 L1208.3,581.0 L1208.9,579.1 L1209.4,575.1 L1210.0,582.9 L1210.5,575.7 L1211.1,567.4 L1211.6,578.1 L1212.2,578.5 L1212.7,580.1 L1213.2,581.8 L1213.8,581.1 L1214.3,576.3 L1214.9,576.5 L1215.4,585.3 L1216.0,577.1 L1216.5,576.8 L1217.0,569.7 L1217.6,569.4 L1218.1,571.8 L1218.7,577.7 L1219.2,578.0 L1219.8,580.5 L1220.3,585.2 L1220.9,576.7 L1221.4,583.8 L1221.9,572.6 L1222.5,578.2 L1223.0,581.8 L1223.6,586.3 L1224.1,572.7 L1224.7,576.5 L1225.2,578.3 L1225.8,577.2 L1226.3,573.2 L1226.8,569.9 L1227.4,571.7 L1227.9,576.9 L1228.5,570.8 L1229.0,585.7 L1229.6,582.9 L1230.1,567.3 L1230.7,574.1 L1231.2,583.1 L1231.7,583.6 L1232.3,581.8 L1232.8,570.7 L1233.4,573.9 L1233.9,582.4 L1234.5,570.9 L1235.0,573.2 L1235.6,578.3 L1236.1,588.6 L1236.6,574.3 L1237.2,590.1 L1237.7,579.5 L1238.3,572.7 L1238.8,570.9 L1239.4,580.3 L1239.9,569.5 L1240.4,575.0 L1241.0,572.3 L1241.5,572.1 L1242.1,570.0 L1242.6,583.1 L1243.2,578.5 L1243.7,575.3 L1244.3,572.6 L1244.8,576.3 L1245.3,572.1 L1245.9,570.7 L1246.4,583.5 L1247.0,580.9 L1247.5,584.5 L1248.1,570.1 L1248.6,566.8 L1249.2,568.9 L1249.7,581.5 L1250.2,587.0 L1250.8,567.6 L1251.3,583.6 L1251.9,563.8 L1252.4,571.3 L1253.0,577.5 L1253.5,581.1 L1254.1,576.7 L1254.6,576.8 L1255.1,558.6 L1255.7,569.9 L1256.2,575.5 L1256.8,558.6 L1257.3,580.5 L1257.9,572.6 L1258.4,584.0 L1259.0,568.0 L1259.5,584.1 L1260.0,572.0 L1260.6,571.9 L1261.1,577.2 L1261.7,580.8 L1262.2,568.4 L1262.8,570.5 L1263.3,585.9 L1263.8,577.6 L1264.4,570.3 L1264.9,574.9 L1265.5,584.2 L1266.0,577.9 L1266.6,580.3 L1267.1,586.0 L1267.7,574.1 L1268.2,578.7 L1268.7,574.2 L1269.3,577.4 L1269.8,580.0 L1270.4,572.0 L1270.9,578.8 L1271.5,579.0 L1272.0,583.2 L1272.6,576.3 L1273.1,573.5 L1273.6,581.0 L1274.2,576.9 L1274.7,572.0 L1275.3,569.8 L1275.8,576.1 L1276.4,579.5 L1276.9,575.5 L1277.5,567.6 L1278.0,573.7 L1278.5,570.8 L1279.1,576.5 L1279.6,575.2 L1280.2,590.9 L1280.7,575.6 L1281.3,581.3 L1281.8,578.5 L1282.3,577.5 L1282.9,581.6 L1283.4,586.7 L1284.0,578.6 L1284.5,580.4 L1285.1,565.1 L1285.6,575.2 L1286.2,571.1 L1286.7,577.9 L1287.2,576.9 L1287.8,576.9 L1288.3,587.5 L1288.9,580.8 L1289.4,579.4 L1290.0,576.0 L1290.5,583.3 L1291.1,569.7 L1291.6,572.7 L1292.1,576.3 L1292.7,579.2 L1293.2,580.5 L1293.8,583.3 L1294.3,581.7 L1294.9,578.0 L1295.4,574.3 L1296.0,574.8 L1296.5,579.5 L1297.0,589.5 L1297.6,575.9 L1298.1,580.7 L1298.7,574.7 L1299.2,579.5 L1299.8,572.6 L1300.3,574.9 L1300.9,578.4 L1301.4,575.2 L1301.9,577.3 L1302.5,582.8 L1303.0,574.6 L1303.6,575.3 L1304.1,573.1 L1304.7,576.1 L1305.2,583.3 L1305.7,583.5 L1306.3,577.8 L1306.8,581.5 L1307.4,582.0 L1307.9,582.8 L1308.5,582.1 L1309.0,586.2 L1309.6,566.9 L1310.1,576.0 L1310.6,577.4 L1311.2,582.1 L1311.7,580.5 L1312.3,577.5 L1312.8,583.0 L1313.4,574.0 L1313.9,570.1 L1314.5,574.4 L1315.0,576.2 L1315.5,578.3 L1316.1,584.6 L1316.6,582.3 L1317.2,585.0 L1317.7,573.1 L1318.3,574.9 L1318.8,578.2 L1319.4,581.0 L1319.9,581.1 L1320.4,577.9 L1321.0,577.4 L1321.5,577.7 L1322.1,581.9 L1322.6,574.8 L1323.2,566.8 L1323.7,579.3 L1324.3,573.5 L1324.8,563.1 L1325.3,584.2 L1325.9,578.8 L1326.4,586.1 L1327.0,571.6 L1327.5,579.3 L1328.1,580.0 L1328.6,581.8 L1329.1,575.3 L1329.7,579.1 L1330.2,578.9 L1330.8,578.8 L1331.3,572.6 L1331.9,571.1 L1332.4,576.4 L1333.0,578.0 L1333.5,578.5 L1334.0,581.0 L1334.6,585.4 L1335.1,581.2 L1335.7,581.5 L1336.2,584.4 L1336.8,589.5 L1337.3,580.5 L1337.9,580.9 L1338.4,574.1 L1338.9,581.9 L1339.5,582.1 L1340.0,584.0 L1340.6,579.7 L1341.1,576.0 L1341.7,577.3 L1342.2,581.3 L1342.8,586.1 L1343.3,581.1 L1343.8,575.9 L1344.4,580.6 L1344.9,574.6 L1345.5,587.7 L1346.0,580.6 L1346.6,578.5 L1347.1,578.1 L1347.6,573.7 L1348.2,570.0 L1348.7,576.8 L1349.3,575.5 L1349.8,579.4 L1350.4,579.0 L1350.9,589.7 L1351.5,586.1 L1352.0,584.4 L1352.5,577.9 L1353.1,571.8 L1353.6,579.9 L1354.2,580.9 L1354.7,580.3 L1355.3,577.0 L1355.8,575.9 L1356.4,585.5 L1356.9,579.5 L1357.4,582.5 L1358.0,574.1 L1358.5,587.3 L1359.1,579.5 L1359.6,574.7 L1360.2,578.8 L1360.7,576.3 L1361.3,584.2 L1361.8,576.8 L1362.3,575.9 L1362.9,581.3 L1363.4,582.1 L1364.0,575.5 L1364.5,576.7 L1365.1,577.2 L1365.6,577.8 L1366.2,587.8 L1366.7,587.1 L1367.2,581.9 L1367.8,582.6 L1368.3,578.9 L1368.9,581.6 L1369.4,578.8 L1370.0,577.0 L1370.5,583.6 L1371.0,582.8 L1371.6,580.0 L1372.1,578.0 L1372.7,575.0 L1373.2,578.8 L1373.8,586.4 L1374.3,581.4 L1374.9,577.8 L1375.4,577.7 L1375.9,581.1 L1376.5,582.6 L1377.0,574.9 L1377.6,579.1 L1378.1,578.6 L1378.7,585.7 L1379.2,578.3 L1379.8,578.9 L1380.3,577.1 L1380.8,576.9 L1381.4,572.5 L1381.9,582.8 L1382.5,577.0 L1383.0,573.0 L1383.6,580.6 L1384.1,578.3 L1384.7,581.0 L1385.2,580.8 L1385.7,578.3 L1386.3,574.0 L1386.8,571.0 L1387.4,577.6 L1387.9,576.5 L1388.5,579.1 L1389.0,582.6 L1389.5,576.4" fill="none" stroke="#4a4a4a" stroke-width="2.0" stroke-linejoin="round"/>
<rect x="80" y="4.5" width="1313.5" height="2.8" fill="#000"/>
<rect x="80" y="690" width="1313.5" height="3" fill="#000"/>
<rect x="80" y="4.5" width="4.5" height="700" fill="#000"/>
<rect x="1389.1" y="4.5" width="4.4" height="700" fill="#000"/>
<rect x="162.0" y="692" width="4.2" height="5.7" fill="#000"/>
<rect x="243.8" y="692" width="4.2" height="12.4" fill="#000"/>
<rect x="325.6" y="692" width="4.2" height="5.7" fill="#000"/>
<rect x="407.5" y="692" width="4.2" height="12.4" fill="#000"/>
<rect x="489.3" y="692" width="4.2" height="5.7" fill="#000"/>
<rect x="571.1" y="692" width="4.2" height="12.4" fill="#000"/>
<rect x="652.9" y="692" width="4.2" height="5.7" fill="#000"/>
<rect x="734.7" y="692" width="4.2" height="12.4" fill="#000"/>
<rect x="816.5" y="692" width="4.2" height="5.7" fill="#000"/>
<rect x="898.4" y="692" width="4.2" height="12.4" fill="#000"/>
<rect x="980.2" y="692" width="4.2" height="5.7" fill="#000"/>
<rect x="1062.0" y="692" width="4.2" height="12.4" fill="#000"/>
<rect x="1143.8" y="692" width="4.2" height="5.7" fill="#000"/>
<rect x="1225.6" y="692" width="4.2" height="12.4" fill="#000"/>
<rect x="1307.4" y="692" width="4.2" height="5.7" fill="#000"/>
<text transform="translate(82.3,735.8) scale(1.39,1)" font-family="Liberation Sans, Arial, Helvetica, sans-serif" font-size="29" font-weight="bold" fill="#000" text-anchor="middle" clip-path="url(#f1)">10</text>
<text transform="translate(245.9,735.8) scale(1.39,1)" font-family="Liberation Sans, Arial, Helvetica, sans-serif" font-size="29" font-weight="bold" fill="#000" text-anchor="middle">20</text>
<text transform="translate(409.6,735.8) scale(1.39,1)" font-family="Liberation Sans, Arial, Helvetica, sans-serif" font-size="29" font-weight="bold" fill="#000" text-anchor="middle">30</text>
<text transform="translate(573.2,735.8) scale(1.39,1)" font-family="Liberation Sans, Arial, Helvetica, sans-serif" font-size="29" font-weight="bold" fill="#000" text-anchor="middle">40</text>
<text transform="translate(736.8,735.8) scale(1.39,1)" font-family="Liberation Sans, Arial, Helvetica, sans-serif" font-size="29" font-weight="bold" fill="#000" text-anchor="middle">50</text>
<text transform="translate(900.5,735.8) scale(1.39,1)" font-family="Liberation Sans, Arial, Helvetica, sans-serif" font-size="29" font-weight="bold" fill="#000" text-anchor="middle">60</text>
<text transform="translate(1064.1,735.8) scale(1.39,1)" font-family="Liberation Sans, Arial, Helvetica, sans-serif" font-size="29" font-weight="bold" fill="#000" text-anchor="middle">70</text>
<text transform="translate(1227.7,735.8) scale(1.39,1)" font-family="Liberation Sans, Arial, Helvetica, sans-serif" font-size="29" font-weight="bold" fill="#000" text-anchor="middle">80</text>
<text transform="translate(1391.3,735.8) scale(1.39,1)" font-family="Liberation Sans, Arial, Helvetica, sans-serif" font-size="29" font-weight="bold" fill="#000" text-anchor="middle">90</text>
<text transform="translate(770.5,781.9) scale(1.385,1)" font-family="Liberation Sans, Arial, Helvetica, sans-serif" font-size="36" font-weight="bold" text-anchor="middle">2<tspan font-family="Liberation Serif, serif">θ</tspan> (Degree)</text>
<text transform="translate(40.8,336) scale(1.40,1) rotate(-90)" font-family="Liberation Sans, Arial, Helvetica, sans-serif" font-size="35.5" font-weight="bold" text-anchor="middle">Intensity (a.u.)</text>
<text transform="translate(419.3,35.5) scale(1.4,1)" font-family="Liberation Sans, Arial, Helvetica, sans-serif" font-size="30" font-weight="bold" fill="#0000f8" text-anchor="middle" clip-path="url(#f2)">(311)</text>
<text transform="translate(578.3,85.5) scale(1.4,1)" font-family="Liberation Sans, Arial, Helvetica, sans-serif" font-size="30" font-weight="bold" fill="#0000f8" text-anchor="middle">(400)</text>
<text transform="translate(816.2,155.1) scale(1.4,1)" font-family="Liberation Sans, Arial, Helvetica, sans-serif" font-size="30" font-weight="bold" fill="#0000f8" text-anchor="middle">(440)</text>
<text transform="translate(414.9,288.4) scale(1.4,1)" font-family="Liberation Sans, Arial, Helvetica, sans-serif" font-size="30" font-weight="bold" fill="#0000f8" text-anchor="middle" clip-path="url(#f3)">(311)</text>
<text transform="translate(580.4,392.6) scale(1.4,1)" font-family="Liberation Sans, Arial, Helvetica, sans-serif" font-size="30" font-weight="bold" fill="#0000f8" text-anchor="middle">(400)</text>
<text transform="translate(811.5,475.5) scale(1.4,1)" font-family="Liberation Sans, Arial, Helvetica, sans-serif" font-size="30" font-weight="bold" fill="#0000f8" text-anchor="middle">(440)</text>
<text transform="translate(243.7,522.0) scale(1.41,1)" font-family="Liberation Sans, Arial, Helvetica, sans-serif" font-size="25.8" font-weight="bold" fill="#009600" text-anchor="middle">20.0°</text>
<text transform="translate(1014.6,669.2) scale(1.39,1)" font-family="Liberation Sans, Arial, Helvetica, sans-serif" font-size="26" font-weight="bold" fill="#000" text-anchor="start" clip-path="url(#f4)">JCPDS: 43-1477</text>
<rect x="1021.2" y="400.1" width="39.8" height="21.2" fill="#0000ff"/>
<rect x="1021.2" y="445.3" width="39.8" height="20.9" fill="#009200"/>
<text transform="translate(1083.5,424.6) scale(1.365,1)" font-family="Liberation Sans, Arial, Helvetica, sans-serif" font-size="33.3" font-weight="bold">NiCo<tspan font-size="21.5" dy="8.5">2</tspan><tspan dy="-8.5">S</tspan><tspan font-size="21.5" dy="8.5">4</tspan></text>
<text transform="translate(1081.0,467.0) scale(1.37,1)" font-family="Liberation Sans, Arial, Helvetica, sans-serif" font-size="32.7" font-weight="bold" fill="#000" text-anchor="start">Chitosan</text>
<rect x="966.6" y="16.5" width="397.9" height="106.3" fill="none" stroke="#1a1a1a" stroke-width="1.2"/>
<line x1="972.4" y1="40.6" x2="1085.1" y2="40.6" stroke="#dc3434" stroke-width="1.7"/>
<line x1="972.4" y1="91.9" x2="1085.1" y2="91.9" stroke="#4a4a4a" stroke-width="2.0"/>
<text transform="translate(1098.2,53.4) scale(1.37,1)" font-family="Liberation Sans, Arial, Helvetica, sans-serif" font-size="36.8">NiCo<tspan font-size="23.5" dy="8.8">2</tspan><tspan dy="-8.8">S</tspan><tspan font-size="23.5" dy="8.8">4</tspan></text>
<text transform="translate(1098.2,104.2) scale(1.37,1)" font-family="Liberation Sans, Arial, Helvetica, sans-serif" font-size="36.8">NiCo<tspan font-size="23.5" dy="8.8">2</tspan><tspan dy="-8.8">S</tspan><tspan font-size="23.5" dy="8.8">4</tspan><tspan dy="-8.8">/Ch</tspan></text></svg>
</body></html>
